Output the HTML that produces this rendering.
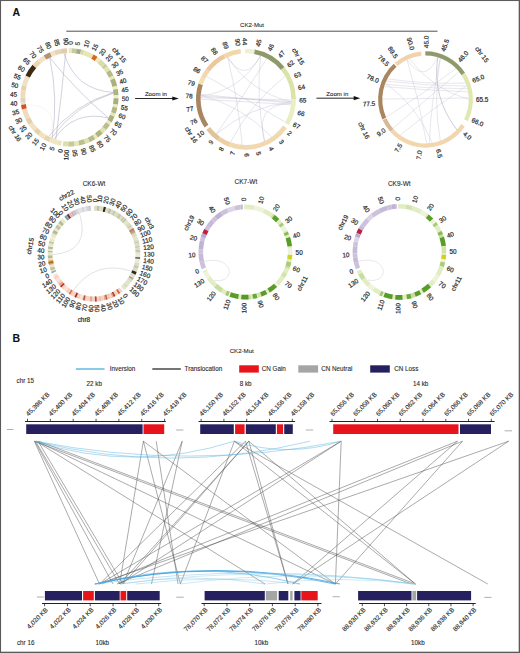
<!DOCTYPE html>
<html><head><meta charset="utf-8"><style>
html,body{margin:0;padding:0;background:#fff;}
svg{display:block;font-family:"Liberation Sans", sans-serif;}
text{stroke:#2a2a2a;stroke-width:0.1px;}
text.c{stroke:#2a2a2a;stroke-width:0.2px;}
text.t{stroke:#2a2a2a;stroke-width:0.12px;}
</style></head><body>
<svg width="520" height="653" viewBox="0 0 520 653">
<rect x="0" y="0" width="520" height="653" fill="#fff"/>
<text x="12.60" y="16.40" font-size="10.5" text-anchor="start" fill="#111" font-weight="bold">A</text>
<text x="240.00" y="26.90" font-size="6.1" text-anchor="start" fill="#2a2a2a">CK2-Mut</text>
<line x1="66.3" y1="31.2" x2="437.5" y2="31.2" stroke="#222" stroke-width="0.8"/>
<line x1="135.1" y1="98.5" x2="173.8" y2="98.5" stroke="#111" stroke-width="0.9"/><path d="M172.3,96.4 L178.8,98.5 L172.3,100.6 Z" fill="#111"/>
<text x="144.90" y="96.00" font-size="6.1" text-anchor="start" fill="#2a2a2a">Zoom in</text>
<line x1="316.4" y1="98.2" x2="355.2" y2="98.2" stroke="#111" stroke-width="0.9"/><path d="M353.7,96.10000000000001 L360.2,98.2 L353.7,100.3 Z" fill="#111"/>
<text x="326.30" y="96.20" font-size="6.1" text-anchor="start" fill="#2a2a2a">Zoom in</text>
<g transform="translate(69.45,97.30) scale(1,1.0031) translate(-69.45,-97.30)">
<path d="M68.77,48.25 A49.05,49.05 0 0 1 71.92,48.31 L71.67,53.21 A44.15,44.15 0 0 0 68.83,53.15 Z" fill="#e8e6c4"/>
<path d="M71.92,48.31 A49.05,49.05 0 0 1 76.62,48.78 L75.90,53.62 A44.15,44.15 0 0 0 71.67,53.21 Z" fill="#c6cc9e"/>
<path d="M76.62,48.78 A49.05,49.05 0 0 1 81.26,49.69 L80.08,54.45 A44.15,44.15 0 0 0 75.90,53.62 Z" fill="#a0ac88"/>
<path d="M81.26,49.69 A49.05,49.05 0 0 1 84.29,50.55 L82.81,55.22 A44.15,44.15 0 0 0 80.08,54.45 Z" fill="#d6d8a8"/>
<path d="M84.29,50.55 A49.05,49.05 0 0 1 93.66,54.64 L91.24,58.90 A44.15,44.15 0 0 0 82.81,55.22 Z" fill="#e8e6b4"/>
<path d="M93.66,54.64 A49.05,49.05 0 0 1 97.65,57.17 L94.84,61.18 A44.15,44.15 0 0 0 91.24,58.90 Z" fill="#d66a1c"/>
<path d="M97.65,57.17 A49.05,49.05 0 0 1 100.78,59.56 L97.65,63.33 A44.15,44.15 0 0 0 94.84,61.18 Z" fill="#f0eab6"/>
<path d="M100.78,59.56 A49.05,49.05 0 0 1 105.36,63.89 L101.77,67.23 A44.15,44.15 0 0 0 97.65,63.33 Z" fill="#dadca6"/>
<path d="M105.36,63.89 A49.05,49.05 0 0 1 107.43,66.26 L103.64,69.36 A44.15,44.15 0 0 0 101.77,67.23 Z" fill="#cacc98"/>
<path d="M107.43,66.26 A49.05,49.05 0 0 1 110.24,70.06 L106.17,72.78 A44.15,44.15 0 0 0 103.64,69.36 Z" fill="#e2e2b2"/>
<path d="M110.24,70.06 A49.05,49.05 0 0 1 113.40,75.52 L109.01,77.69 A44.15,44.15 0 0 0 106.17,72.78 Z" fill="#b6ba88"/>
<path d="M113.40,75.52 A49.05,49.05 0 0 1 114.71,78.38 L110.18,80.27 A44.15,44.15 0 0 0 109.01,77.69 Z" fill="#e8e8b8"/>
<path d="M114.71,78.38 A49.05,49.05 0 0 1 117.15,85.87 L112.38,87.01 A44.15,44.15 0 0 0 110.18,80.27 Z" fill="#aab07e"/>
<path d="M117.15,85.87 A49.05,49.05 0 0 1 117.78,88.95 L112.96,89.79 A44.15,44.15 0 0 0 112.38,87.01 Z" fill="#eeedbc"/>
<path d="M117.78,88.95 A49.05,49.05 0 0 1 118.46,95.22 L113.56,95.43 A44.15,44.15 0 0 0 112.96,89.79 Z" fill="#acb280"/>
<path d="M118.46,95.22 A49.05,49.05 0 0 1 118.49,98.37 L113.59,98.26 A44.15,44.15 0 0 0 113.56,95.43 Z" fill="#f2f0c0"/>
<path d="M118.49,98.37 A49.05,49.05 0 0 1 117.95,104.65 L113.10,103.91 A44.15,44.15 0 0 0 113.59,98.26 Z" fill="#a6ae7c"/>
<path d="M117.95,104.65 A49.05,49.05 0 0 1 117.38,107.74 L112.59,106.70 A44.15,44.15 0 0 0 113.10,103.91 Z" fill="#eaeab8"/>
<path d="M117.38,107.74 A49.05,49.05 0 0 1 115.64,113.80 L111.03,112.15 A44.15,44.15 0 0 0 112.59,106.70 Z" fill="#b2b886"/>
<path d="M115.64,113.80 A49.05,49.05 0 0 1 114.49,116.73 L109.99,114.79 A44.15,44.15 0 0 0 111.03,112.15 Z" fill="#e6e6b4"/>
<path d="M114.49,116.73 A49.05,49.05 0 0 1 111.62,122.35 L107.41,119.84 A44.15,44.15 0 0 0 109.99,114.79 Z" fill="#aab080"/>
<path d="M111.62,122.35 A49.05,49.05 0 0 1 109.93,125.00 L105.88,122.23 A44.15,44.15 0 0 0 107.41,119.84 Z" fill="#eeebba"/>
<path d="M109.93,125.00 A49.05,49.05 0 0 1 106.04,129.96 L102.39,126.70 A44.15,44.15 0 0 0 105.88,122.23 Z" fill="#babe8c"/>
<path d="M106.04,129.96 A49.05,49.05 0 0 1 102.73,133.33 L99.41,129.73 A44.15,44.15 0 0 0 102.39,126.70 Z" fill="#e0e2b0"/>
<path d="M102.73,133.33 A49.05,49.05 0 0 1 97.84,137.30 L95.00,133.30 A44.15,44.15 0 0 0 99.41,129.73 Z" fill="#aeb482"/>
<path d="M97.84,137.30 A49.05,49.05 0 0 1 95.21,139.04 L92.64,134.87 A44.15,44.15 0 0 0 95.00,133.30 Z" fill="#eaeab8"/>
<path d="M95.21,139.04 A49.05,49.05 0 0 1 89.65,142.00 L87.63,137.53 A44.15,44.15 0 0 0 92.64,134.87 Z" fill="#b6bc8a"/>
<path d="M89.65,142.00 A49.05,49.05 0 0 1 85.25,143.73 L83.67,139.10 A44.15,44.15 0 0 0 87.63,137.53 Z" fill="#dfe0ae"/>
<path d="M85.25,143.73 A49.05,49.05 0 0 1 79.17,145.38 L78.20,140.57 A44.15,44.15 0 0 0 83.67,139.10 Z" fill="#bac08c"/>
<path d="M79.17,145.38 A49.05,49.05 0 0 1 74.50,146.09 L73.99,141.22 A44.15,44.15 0 0 0 78.20,140.57 Z" fill="#e8e8b6"/>
<path d="M74.50,146.09 A49.05,49.05 0 0 1 68.20,146.33 L68.33,141.44 A44.15,44.15 0 0 0 73.99,141.22 Z" fill="#c6ca98"/>
<path d="M68.20,146.33 A49.05,49.05 0 0 1 62.71,145.88 L63.38,141.03 A44.15,44.15 0 0 0 68.33,141.44 Z" fill="#dcdeac"/>
<path d="M61.02,145.62 A49.05,49.05 0 0 1 56.38,144.58 L57.68,139.85 A44.15,44.15 0 0 0 61.86,140.79 Z" fill="#eee4bc"/>
<path d="M56.38,144.58 A49.05,49.05 0 0 1 48.94,141.85 L50.99,137.40 A44.15,44.15 0 0 0 57.68,139.85 Z" fill="#f2e6c6"/>
<path d="M48.94,141.85 A49.05,49.05 0 0 1 43.36,138.84 L45.97,134.69 A44.15,44.15 0 0 0 50.99,137.40 Z" fill="#ead6ae"/>
<path d="M43.36,138.84 A49.05,49.05 0 0 1 38.22,135.12 L41.34,131.35 A44.15,44.15 0 0 0 45.97,134.69 Z" fill="#f2e2c0"/>
<path d="M38.22,135.12 A49.05,49.05 0 0 1 33.60,130.78 L37.18,127.44 A44.15,44.15 0 0 0 41.34,131.35 Z" fill="#e8d2a8"/>
<path d="M33.60,130.78 A49.05,49.05 0 0 1 28.68,124.57 L32.75,121.85 A44.15,44.15 0 0 0 37.18,127.44 Z" fill="#f2e2c4"/>
<path d="M28.68,124.57 A49.05,49.05 0 0 1 25.50,119.09 L29.89,116.91 A44.15,44.15 0 0 0 32.75,121.85 Z" fill="#e6cfa6"/>
<path d="M25.50,119.09 A49.05,49.05 0 0 1 21.93,109.44 L26.67,108.23 A44.15,44.15 0 0 0 29.89,116.91 Z" fill="#f0dcbc"/>
<path d="M21.93,109.44 A49.05,49.05 0 0 1 20.97,104.78 L25.82,104.03 A44.15,44.15 0 0 0 26.67,108.23 Z" fill="#d2502a"/>
<path d="M20.97,104.78 A49.05,49.05 0 0 1 20.67,102.42 L25.54,101.91 A44.15,44.15 0 0 0 25.82,104.03 Z" fill="#f0dcc0"/>
<path d="M20.67,102.42 A49.05,49.05 0 0 1 20.40,97.67 L25.30,97.63 A44.15,44.15 0 0 0 25.54,101.91 Z" fill="#d6d8bc"/>
<path d="M20.40,97.67 A49.05,49.05 0 0 1 20.98,89.77 L25.82,90.52 A44.15,44.15 0 0 0 25.30,97.63 Z" fill="#f0dcb8"/>
<path d="M20.98,89.77 A49.05,49.05 0 0 1 21.94,85.11 L26.68,86.33 A44.15,44.15 0 0 0 25.82,90.52 Z" fill="#e8d2ac"/>
<path d="M21.94,85.11 A49.05,49.05 0 0 1 25.53,75.47 L29.91,77.65 A44.15,44.15 0 0 0 26.68,86.33 Z" fill="#f0e0c4"/>
<path d="M25.53,75.47 A49.05,49.05 0 0 1 32.57,64.96 L36.26,68.19 A44.15,44.15 0 0 0 29.91,77.65 Z" fill="#3c2a16"/>
<path d="M32.57,64.96 A49.05,49.05 0 0 1 37.65,59.95 L40.83,63.68 A44.15,44.15 0 0 0 36.26,68.19 Z" fill="#f0d4ac"/>
<path d="M37.65,59.95 A49.05,49.05 0 0 1 43.67,55.57 L46.25,59.74 A44.15,44.15 0 0 0 40.83,63.68 Z" fill="#f4e2c4"/>
<path d="M43.67,55.57 A49.05,49.05 0 0 1 50.00,52.27 L51.94,56.77 A44.15,44.15 0 0 0 46.25,59.74 Z" fill="#b39372"/>
<path d="M50.00,52.27 A49.05,49.05 0 0 1 54.15,50.70 L55.68,55.35 A44.15,44.15 0 0 0 51.94,56.77 Z" fill="#f2e2c6"/>
<path d="M54.15,50.70 A49.05,49.05 0 0 1 60.29,49.11 L61.20,53.93 A44.15,44.15 0 0 0 55.68,55.35 Z" fill="#e8d4b4"/>
<path d="M60.29,49.11 A49.05,49.05 0 0 1 67.05,48.31 L67.29,53.20 A44.15,44.15 0 0 0 61.20,53.93 Z" fill="#e2ccb0"/>
<path d="M49.75,57.79 Q76.21,90.70 108.47,117.96" fill="none" stroke="#a0a0b6" stroke-width="0.6" stroke-opacity="0.8"/>
<path d="M49.75,57.79 Q58.36,97.64 52.20,137.94" fill="none" stroke="#a0a0b6" stroke-width="0.6" stroke-opacity="0.8"/>
<path d="M64.07,53.48 Q75.23,90.00 113.33,92.46" fill="none" stroke="#a0a0b6" stroke-width="0.6" stroke-opacity="0.8"/>
<path d="M65.60,53.32 Q61.58,96.40 55.81,139.29" fill="none" stroke="#a0a0b6" stroke-width="0.6" stroke-opacity="0.8"/>
<path d="M113.33,92.46 Q74.08,104.13 48.72,136.28" fill="none" stroke="#a0a0b6" stroke-width="0.6" stroke-opacity="0.8"/>
<path d="M113.40,93.07 Q75.30,105.42 51.49,137.63" fill="none" stroke="#a0a0b6" stroke-width="0.6" stroke-opacity="0.8"/>
<path d="M108.47,117.96 Q74.23,109.73 54.35,138.79" fill="none" stroke="#a0a0b6" stroke-width="0.6" stroke-opacity="0.8"/>
<path d="M25.97,104.97 Q60.02,104.40 50.10,136.98" fill="none" stroke="#f4e8dc" stroke-width="0.6" stroke-opacity="0.7"/>
<text class="c" x="70.36" y="44.96" font-size="6.4" text-anchor="start" dominant-baseline="central" fill="#2a2a2a" transform="rotate(-89.0 70.36 44.96)">0</text>
<text class="c" x="77.10" y="45.51" font-size="6.4" text-anchor="start" dominant-baseline="central" fill="#2a2a2a" transform="rotate(-81.6 77.10 45.51)">5</text>
<text class="c" x="85.29" y="47.40" font-size="6.4" text-anchor="start" dominant-baseline="central" fill="#2a2a2a" transform="rotate(-72.4 85.29 47.40)">10</text>
<text class="c" x="93.07" y="50.58" font-size="6.4" text-anchor="start" dominant-baseline="central" fill="#2a2a2a" transform="rotate(-63.2 93.07 50.58)">15</text>
<text class="c" x="100.23" y="54.96" font-size="6.4" text-anchor="start" dominant-baseline="central" fill="#2a2a2a" transform="rotate(-54.0 100.23 54.96)">20</text>
<text class="c" x="106.61" y="60.43" font-size="6.4" text-anchor="start" dominant-baseline="central" fill="#2a2a2a" transform="rotate(-44.8 106.61 60.43)">25</text>
<text class="c" x="112.03" y="66.85" font-size="6.4" text-anchor="start" dominant-baseline="central" fill="#2a2a2a" transform="rotate(-35.6 112.03 66.85)">30</text>
<text class="c" x="116.35" y="74.05" font-size="6.4" text-anchor="start" dominant-baseline="central" fill="#2a2a2a" transform="rotate(-26.4 116.35 74.05)">35</text>
<text class="c" x="119.47" y="81.85" font-size="6.4" text-anchor="start" dominant-baseline="central" fill="#2a2a2a" transform="rotate(-17.2 119.47 81.85)">40</text>
<text class="c" x="121.30" y="90.05" font-size="6.4" text-anchor="start" dominant-baseline="central" fill="#2a2a2a" transform="rotate(-8.0 121.30 90.05)">45</text>
<text class="c" x="121.79" y="98.44" font-size="6.4" text-anchor="start" dominant-baseline="central" fill="#2a2a2a" transform="rotate(1.2 121.79 98.44)">50</text>
<text class="c" x="120.93" y="106.80" font-size="6.4" text-anchor="start" dominant-baseline="central" fill="#2a2a2a" transform="rotate(10.5 120.93 106.80)">55</text>
<text class="c" x="118.75" y="114.91" font-size="6.4" text-anchor="start" dominant-baseline="central" fill="#2a2a2a" transform="rotate(19.7 118.75 114.91)">60</text>
<text class="c" x="115.30" y="122.57" font-size="6.4" text-anchor="start" dominant-baseline="central" fill="#2a2a2a" transform="rotate(28.9 115.30 122.57)">65</text>
<text class="c" x="110.66" y="129.58" font-size="6.4" text-anchor="start" dominant-baseline="central" fill="#2a2a2a" transform="rotate(38.1 110.66 129.58)">70</text>
<text class="c" x="104.97" y="135.76" font-size="6.4" text-anchor="start" dominant-baseline="central" fill="#2a2a2a" transform="rotate(47.3 104.97 135.76)">75</text>
<text class="c" x="98.36" y="140.94" font-size="6.4" text-anchor="start" dominant-baseline="central" fill="#2a2a2a" transform="rotate(56.5 98.36 140.94)">80</text>
<text class="c" x="91.01" y="145.01" font-size="6.4" text-anchor="start" dominant-baseline="central" fill="#2a2a2a" transform="rotate(65.7 91.01 145.01)">85</text>
<text class="c" x="83.10" y="147.84" font-size="6.4" text-anchor="start" dominant-baseline="central" fill="#2a2a2a" transform="rotate(74.9 83.10 147.84)">90</text>
<text class="c" x="74.84" y="149.37" font-size="6.4" text-anchor="start" dominant-baseline="central" fill="#2a2a2a" transform="rotate(84.1 74.84 149.37)">95</text>
<text class="c" x="66.44" y="149.56" font-size="6.4" text-anchor="end" dominant-baseline="central" fill="#2a2a2a" transform="rotate(-86.7 66.44 149.56)">100</text>
<text class="c" x="60.45" y="148.87" font-size="6.4" text-anchor="end" dominant-baseline="central" fill="#2a2a2a" transform="rotate(-80.1 60.45 148.87)">0</text>
<text class="c" x="52.27" y="146.75" font-size="6.4" text-anchor="end" dominant-baseline="central" fill="#2a2a2a" transform="rotate(-70.8 52.27 146.75)">5</text>
<text class="c" x="44.53" y="143.34" font-size="6.4" text-anchor="end" dominant-baseline="central" fill="#2a2a2a" transform="rotate(-61.6 44.53 143.34)">10</text>
<text class="c" x="37.44" y="138.73" font-size="6.4" text-anchor="end" dominant-baseline="central" fill="#2a2a2a" transform="rotate(-52.3 37.44 138.73)">15</text>
<text class="c" x="31.19" y="133.03" font-size="6.4" text-anchor="end" dominant-baseline="central" fill="#2a2a2a" transform="rotate(-43.0 31.19 133.03)">20</text>
<text class="c" x="25.94" y="126.41" font-size="6.4" text-anchor="end" dominant-baseline="central" fill="#2a2a2a" transform="rotate(-33.8 25.94 126.41)">25</text>
<text class="c" x="21.82" y="119.02" font-size="6.4" text-anchor="end" dominant-baseline="central" fill="#2a2a2a" transform="rotate(-24.5 21.82 119.02)">30</text>
<text class="c" x="18.94" y="111.07" font-size="6.4" text-anchor="end" dominant-baseline="central" fill="#2a2a2a" transform="rotate(-15.3 18.94 111.07)">35</text>
<text class="c" x="17.39" y="102.76" font-size="6.4" text-anchor="end" dominant-baseline="central" fill="#2a2a2a" transform="rotate(-6.0 17.39 102.76)">40</text>
<text class="c" x="17.19" y="94.31" font-size="6.4" text-anchor="end" dominant-baseline="central" fill="#2a2a2a" transform="rotate(3.3 17.19 94.31)">45</text>
<text class="c" x="18.35" y="85.94" font-size="6.4" text-anchor="end" dominant-baseline="central" fill="#2a2a2a" transform="rotate(12.5 18.35 85.94)">50</text>
<text class="c" x="20.84" y="77.86" font-size="6.4" text-anchor="end" dominant-baseline="central" fill="#2a2a2a" transform="rotate(21.8 20.84 77.86)">55</text>
<text class="c" x="24.61" y="70.29" font-size="6.4" text-anchor="end" dominant-baseline="central" fill="#2a2a2a" transform="rotate(31.1 24.61 70.29)">60</text>
<text class="c" x="29.54" y="63.42" font-size="6.4" text-anchor="end" dominant-baseline="central" fill="#2a2a2a" transform="rotate(40.3 29.54 63.42)">65</text>
<text class="c" x="35.51" y="57.44" font-size="6.4" text-anchor="end" dominant-baseline="central" fill="#2a2a2a" transform="rotate(49.6 35.51 57.44)">70</text>
<text class="c" x="42.37" y="52.50" font-size="6.4" text-anchor="end" dominant-baseline="central" fill="#2a2a2a" transform="rotate(58.9 42.37 52.50)">75</text>
<text class="c" x="49.94" y="48.72" font-size="6.4" text-anchor="end" dominant-baseline="central" fill="#2a2a2a" transform="rotate(68.1 49.94 48.72)">80</text>
<text class="c" x="58.01" y="46.21" font-size="6.4" text-anchor="end" dominant-baseline="central" fill="#2a2a2a" transform="rotate(77.4 58.01 46.21)">85</text>
<text class="c" x="66.39" y="45.04" font-size="6.4" text-anchor="end" dominant-baseline="central" fill="#2a2a2a" transform="rotate(86.6 66.39 45.04)">90</text>
<text class="c" x="119.48" y="55.02" font-size="6.4" text-anchor="middle" dominant-baseline="central" fill="#2a2a2a" transform="rotate(49.8 119.48 55.02)">chr 15</text>
<text class="c" x="15.25" y="133.18" font-size="6.4" text-anchor="middle" dominant-baseline="central" fill="#2a2a2a" transform="rotate(56.5 15.25 133.18)">chr 16</text>
</g>
<g transform="translate(245.95,99.20) scale(1,1.0110) translate(-245.95,-99.20)">
<path d="M245.08,49.26 A49.95,49.95 0 0 1 254.88,50.05 L254.06,54.58 A45.35,45.35 0 0 0 245.16,53.86 Z" fill="#eef0d2"/>
<path d="M254.88,50.05 A49.95,49.95 0 0 1 284.49,67.43 L280.94,70.35 A45.35,45.35 0 0 0 254.06,54.58 Z" fill="#8f9a6b"/>
<path d="M284.49,67.43 A49.95,49.95 0 0 1 295.90,99.20 L291.30,99.20 A45.35,45.35 0 0 0 280.94,70.35 Z" fill="#dbe3a8"/>
<path d="M295.90,99.20 A49.95,49.95 0 0 1 288.77,124.93 L284.82,122.56 A45.35,45.35 0 0 0 291.30,99.20 Z" fill="#e9eec4"/>
<path d="M286.87,127.85 A49.95,49.95 0 0 1 228.87,146.14 L230.44,141.82 A45.35,45.35 0 0 0 283.10,125.21 Z" fill="#f2d8ae"/>
<path d="M228.87,146.14 A49.95,49.95 0 0 1 217.30,140.12 L219.94,136.35 A45.35,45.35 0 0 0 230.44,141.82 Z" fill="#ecd0a4"/>
<path d="M217.30,140.12 A49.95,49.95 0 0 1 206.32,129.61 L209.97,126.81 A45.35,45.35 0 0 0 219.94,136.35 Z" fill="#e0c39a"/>
<path d="M204.54,127.13 A49.95,49.95 0 0 1 198.44,83.76 L202.82,85.19 A45.35,45.35 0 0 0 208.35,124.56 Z" fill="#a9865f"/>
<path d="M198.44,83.76 A49.95,49.95 0 0 1 201.06,77.30 L205.19,79.32 A45.35,45.35 0 0 0 202.82,85.19 Z" fill="#f2e0b0"/>
<path d="M201.06,77.30 A49.95,49.95 0 0 1 206.06,69.14 L209.73,71.91 A45.35,45.35 0 0 0 205.19,79.32 Z" fill="#f4d8b0"/>
<path d="M206.06,69.14 A49.95,49.95 0 0 1 223.27,54.69 L225.36,58.79 A45.35,45.35 0 0 0 209.73,71.91 Z" fill="#ecc89c"/>
<path d="M223.27,54.69 A49.95,49.95 0 0 1 240.47,49.55 L240.97,54.12 A45.35,45.35 0 0 0 225.36,58.79 Z" fill="#f2d8a8"/>
<path d="M227.65,57.71 Q245.30,84.43 260.56,56.27" fill="none" stroke="#b8b8cc" stroke-width="0.5" stroke-opacity="0.75"/>
<path d="M260.56,56.27 Q240.59,91.13 200.71,96.04" fill="none" stroke="#b8b8cc" stroke-width="0.5" stroke-opacity="0.75"/>
<path d="M266.89,58.97 Q242.93,97.15 216.38,133.58" fill="none" stroke="#b8b8cc" stroke-width="0.5" stroke-opacity="0.75"/>
<path d="M260.56,56.27 Q255.91,98.73 264.54,140.56" fill="none" stroke="#b8b8cc" stroke-width="0.5" stroke-opacity="0.75"/>
<path d="M200.71,96.04 Q245.97,98.91 291.23,101.73" fill="none" stroke="#b8b8cc" stroke-width="0.5" stroke-opacity="0.75"/>
<path d="M200.63,97.62 Q245.96,98.82 291.29,99.99" fill="none" stroke="#b8b8cc" stroke-width="0.5" stroke-opacity="0.75"/>
<path d="M200.85,94.46 Q245.98,98.86 291.13,103.15" fill="none" stroke="#b8b8cc" stroke-width="0.5" stroke-opacity="0.75"/>
<path d="M200.60,99.20 Q245.81,101.41 290.96,104.73" fill="none" stroke="#b8b8cc" stroke-width="0.5" stroke-opacity="0.75"/>
<path d="M291.23,101.73 Q250.67,92.38 227.65,57.71" fill="none" stroke="#b8b8cc" stroke-width="0.5" stroke-opacity="0.75"/>
<path d="M291.13,103.15 Q253.92,104.86 264.54,140.56" fill="none" stroke="#b8b8cc" stroke-width="0.5" stroke-opacity="0.75"/>
<path d="M200.77,95.25 Q242.06,105.88 271.70,136.53" fill="none" stroke="#b8b8cc" stroke-width="0.5" stroke-opacity="0.75"/>
<path d="M216.38,133.58 Q249.09,106.58 291.23,101.73" fill="none" stroke="#b8b8cc" stroke-width="0.5" stroke-opacity="0.75"/>
<path d="M227.65,57.71 Q238.22,100.49 242.16,144.39" fill="none" stroke="#b8b8cc" stroke-width="0.5" stroke-opacity="0.75"/>
<path d="M230.44,141.82 Q250.70,103.19 285.22,76.53" fill="none" stroke="#b8b8cc" stroke-width="0.5" stroke-opacity="0.75"/>
<path d="M206.68,76.53 Q245.95,99.20 285.22,121.88" fill="none" stroke="#b8b8cc" stroke-width="0.5" stroke-opacity="0.75"/>
<text class="c" x="245.02" y="45.86" font-size="6.4" text-anchor="end" dominant-baseline="central" fill="#2a2a2a" transform="rotate(89.0 245.02 45.86)">44</text>
<text class="c" x="257.50" y="47.11" font-size="6.4" text-anchor="start" dominant-baseline="central" fill="#2a2a2a" transform="rotate(-77.5 257.50 47.11)">45</text>
<text class="c" x="269.09" y="51.13" font-size="6.4" text-anchor="start" dominant-baseline="central" fill="#2a2a2a" transform="rotate(-64.3 269.09 51.13)">46</text>
<text class="c" x="279.02" y="57.33" font-size="6.4" text-anchor="start" dominant-baseline="central" fill="#2a2a2a" transform="rotate(-51.7 279.02 57.33)">47</text>
<text class="c" x="287.76" y="66.06" font-size="6.4" text-anchor="start" dominant-baseline="central" fill="#2a2a2a" transform="rotate(-38.4 287.76 66.06)">62</text>
<text class="c" x="294.18" y="76.40" font-size="6.4" text-anchor="start" dominant-baseline="central" fill="#2a2a2a" transform="rotate(-25.3 294.18 76.40)">63</text>
<text class="c" x="298.10" y="87.93" font-size="6.4" text-anchor="start" dominant-baseline="central" fill="#2a2a2a" transform="rotate(-12.2 298.10 87.93)">64</text>
<text class="c" x="299.29" y="100.04" font-size="6.4" text-anchor="start" dominant-baseline="central" fill="#2a2a2a" transform="rotate(0.9 299.29 100.04)">65</text>
<text class="c" x="297.72" y="112.11" font-size="6.4" text-anchor="start" dominant-baseline="central" fill="#2a2a2a" transform="rotate(14.0 297.72 112.11)">66</text>
<text class="c" x="293.44" y="123.50" font-size="6.4" text-anchor="start" dominant-baseline="central" fill="#2a2a2a" transform="rotate(27.1 293.44 123.50)">67</text>
<text class="c" x="288.33" y="131.60" font-size="6.4" text-anchor="start" dominant-baseline="central" fill="#2a2a2a" transform="rotate(37.4 288.33 131.60)">2</text>
<text class="c" x="280.53" y="139.83" font-size="6.4" text-anchor="start" dominant-baseline="central" fill="#2a2a2a" transform="rotate(49.6 280.53 139.83)">3</text>
<text class="c" x="270.67" y="146.48" font-size="6.4" text-anchor="start" dominant-baseline="central" fill="#2a2a2a" transform="rotate(62.4 270.67 146.48)">4</text>
<text class="c" x="258.40" y="151.08" font-size="6.4" text-anchor="start" dominant-baseline="central" fill="#2a2a2a" transform="rotate(76.5 258.40 151.08)">5</text>
<text class="c" x="247.07" y="152.54" font-size="6.4" text-anchor="start" dominant-baseline="central" fill="#2a2a2a" transform="rotate(88.8 247.07 152.54)">6</text>
<text class="c" x="232.77" y="150.90" font-size="6.4" text-anchor="end" dominant-baseline="central" fill="#2a2a2a" transform="rotate(-75.7 232.77 150.90)">7</text>
<text class="c" x="221.90" y="146.82" font-size="6.4" text-anchor="end" dominant-baseline="central" fill="#2a2a2a" transform="rotate(-63.2 221.90 146.82)">8</text>
<text class="c" x="211.80" y="140.19" font-size="6.4" text-anchor="end" dominant-baseline="central" fill="#2a2a2a" transform="rotate(-50.2 211.80 140.19)">9</text>
<text class="c" x="203.29" y="131.23" font-size="6.4" text-anchor="end" dominant-baseline="central" fill="#2a2a2a" transform="rotate(-36.9 203.29 131.23)">10</text>
<text class="c" x="196.77" y="119.87" font-size="6.4" text-anchor="end" dominant-baseline="central" fill="#2a2a2a" transform="rotate(-22.8 196.77 119.87)">76</text>
<text class="c" x="193.36" y="108.19" font-size="6.4" text-anchor="end" dominant-baseline="central" fill="#2a2a2a" transform="rotate(-9.7 193.36 108.19)">77</text>
<text class="c" x="192.69" y="96.04" font-size="6.4" text-anchor="end" dominant-baseline="central" fill="#2a2a2a" transform="rotate(3.4 192.69 96.04)">78</text>
<text class="c" x="194.80" y="84.05" font-size="6.4" text-anchor="end" dominant-baseline="central" fill="#2a2a2a" transform="rotate(16.5 194.80 84.05)">79</text>
<text class="c" x="200.08" y="71.96" font-size="6.4" text-anchor="end" dominant-baseline="central" fill="#2a2a2a" transform="rotate(30.7 200.08 71.96)">86</text>
<text class="c" x="207.38" y="62.34" font-size="6.4" text-anchor="end" dominant-baseline="central" fill="#2a2a2a" transform="rotate(43.7 207.38 62.34)">87</text>
<text class="c" x="216.50" y="54.71" font-size="6.4" text-anchor="end" dominant-baseline="central" fill="#2a2a2a" transform="rotate(56.5 216.50 54.71)">88</text>
<text class="c" x="227.18" y="49.26" font-size="6.4" text-anchor="end" dominant-baseline="central" fill="#2a2a2a" transform="rotate(69.4 227.18 49.26)">89</text>
<text class="c" x="238.53" y="46.37" font-size="6.4" text-anchor="end" dominant-baseline="central" fill="#2a2a2a" transform="rotate(82.0 238.53 46.37)">90</text>
<text class="c" x="298.41" y="56.72" font-size="6.4" text-anchor="middle" dominant-baseline="central" fill="#2a2a2a" transform="rotate(60.0 298.41 56.72)">chr 15</text>
<text class="c" x="191.48" y="134.30" font-size="6.4" text-anchor="middle" dominant-baseline="central" fill="#2a2a2a" transform="rotate(57.0 191.48 134.30)">chr 16</text>
</g>
<g transform="translate(425.50,99.45) scale(1,1.0179) translate(-425.50,-99.45)">
<path d="M425.33,52.05 A47.4,47.4 0 0 1 465.03,73.29 L461.52,75.61 A43.199999999999996,43.199999999999996 0 0 0 425.35,56.25 Z" fill="#8f9a6b"/>
<path d="M465.03,73.29 A47.4,47.4 0 0 1 467.85,120.75 L464.09,118.86 A43.199999999999996,43.199999999999996 0 0 0 461.52,75.61 Z" fill="#e0e8b2"/>
<path d="M464.80,125.96 A47.4,47.4 0 0 1 390.27,131.17 L393.40,128.36 A43.199999999999996,43.199999999999996 0 0 0 461.31,123.61 Z" fill="#f2d6ae"/>
<path d="M390.27,131.17 A47.4,47.4 0 0 1 382.61,119.63 L386.41,117.84 A43.199999999999996,43.199999999999996 0 0 0 393.40,128.36 Z" fill="#d8b896"/>
<path d="M382.61,119.63 A47.4,47.4 0 0 1 382.33,119.03 L386.16,117.30 A43.199999999999996,43.199999999999996 0 0 0 386.41,117.84 Z" fill="#f4ecd0"/>
<path d="M382.33,119.03 A47.4,47.4 0 0 1 393.72,64.28 L396.54,67.40 A43.199999999999996,43.199999999999996 0 0 0 386.16,117.30 Z" fill="#a9865f"/>
<path d="M394.72,63.41 A47.4,47.4 0 0 1 421.04,52.26 L421.43,56.44 A43.199999999999996,43.199999999999996 0 0 0 397.44,66.60 Z" fill="#f1d2ac"/>
<path d="M407.04,60.39 Q424.40,85.36 437.70,58.01" fill="none" stroke="#c0c0d0" stroke-width="0.5" stroke-opacity="0.75"/>
<path d="M437.70,58.01 Q432.03,97.69 456.84,129.19" fill="none" stroke="#9c9cb4" stroke-width="0.6" stroke-opacity="0.85"/>
<path d="M386.25,81.40 Q426.32,86.23 466.68,86.39" fill="none" stroke="#c0c0d0" stroke-width="0.5" stroke-opacity="0.75"/>
<path d="M384.91,84.67 Q426.06,88.73 467.42,89.00" fill="none" stroke="#c0c0d0" stroke-width="0.5" stroke-opacity="0.75"/>
<path d="M387.36,79.17 Q426.26,84.86 465.55,83.27" fill="none" stroke="#c0c0d0" stroke-width="0.5" stroke-opacity="0.75"/>
<path d="M384.19,86.82 Q426.05,90.39 468.04,91.95" fill="none" stroke="#c0c0d0" stroke-width="0.5" stroke-opacity="0.75"/>
<path d="M409.32,59.40 Q432.25,89.44 468.70,99.45" fill="none" stroke="#c0c0d0" stroke-width="0.5" stroke-opacity="0.75"/>
<path d="M382.30,99.07 Q425.49,98.55 468.67,97.94" fill="none" stroke="#c0c0d0" stroke-width="0.5" stroke-opacity="0.75"/>
<path d="M407.04,60.39 Q419.46,100.89 426.71,142.63" fill="none" stroke="#c0c0d0" stroke-width="0.5" stroke-opacity="0.75"/>
<path d="M459.07,72.26 Q425.94,99.97 392.90,127.79" fill="none" stroke="#c0c0d0" stroke-width="0.5" stroke-opacity="0.75"/>
<path d="M466.59,86.10 Q432.17,108.63 400.11,134.40" fill="none" stroke="#c0c0d0" stroke-width="0.5" stroke-opacity="0.75"/>
<path d="M385.45,83.27 Q417.18,106.07 432.26,142.12" fill="none" stroke="#c0c0d0" stroke-width="0.5" stroke-opacity="0.75"/>
<path d="M386.03,117.02 Q422.38,94.91 456.05,68.90" fill="none" stroke="#c0c0d0" stroke-width="0.5" stroke-opacity="0.75"/>
<path d="M440.28,140.04 Q432.89,99.45 440.28,58.86" fill="none" stroke="#c0c0d0" stroke-width="0.5" stroke-opacity="0.75"/>
<path d="M440.28,58.86 Q431.06,100.18 429.27,142.49" fill="none" stroke="#c0c0d0" stroke-width="0.5" stroke-opacity="0.75"/>
<text class="c" x="425.94" y="49.05" font-size="6.4" text-anchor="start" dominant-baseline="central" fill="#2a2a2a" transform="rotate(-89.5 425.94 49.05)">45.0</text>
<text class="c" x="442.74" y="52.09" font-size="6.4" text-anchor="start" dominant-baseline="central" fill="#2a2a2a" transform="rotate(-70.0 442.74 52.09)">45.5</text>
<text class="c" x="458.90" y="61.70" font-size="6.4" text-anchor="start" dominant-baseline="central" fill="#2a2a2a" transform="rotate(-48.5 458.90 61.70)">46.0</text>
<text class="c" x="472.43" y="81.06" font-size="6.4" text-anchor="start" dominant-baseline="central" fill="#2a2a2a" transform="rotate(-21.4 472.43 81.06)">65.0</text>
<text class="c" x="475.90" y="99.45" font-size="6.4" text-anchor="start" dominant-baseline="central" fill="#2a2a2a" transform="rotate(0.0 475.90 99.45)">65.5</text>
<text class="c" x="471.89" y="119.14" font-size="6.4" text-anchor="start" dominant-baseline="central" fill="#2a2a2a" transform="rotate(23.0 471.89 119.14)">66.0</text>
<text class="c" x="464.00" y="131.98" font-size="6.4" text-anchor="start" dominant-baseline="central" fill="#2a2a2a" transform="rotate(40.2 464.00 131.98)">4.0</text>
<text class="c" x="438.37" y="148.18" font-size="6.4" text-anchor="start" dominant-baseline="central" fill="#2a2a2a" transform="rotate(75.2 438.37 148.18)">6.5</text>
<text class="c" x="419.45" y="149.48" font-size="6.4" text-anchor="end" dominant-baseline="central" fill="#2a2a2a" transform="rotate(-83.1 419.45 149.48)">7.0</text>
<text class="c" x="400.38" y="143.14" font-size="6.4" text-anchor="end" dominant-baseline="central" fill="#2a2a2a" transform="rotate(-60.1 400.38 143.14)">7.5</text>
<text class="c" x="384.62" y="128.93" font-size="6.4" text-anchor="end" dominant-baseline="central" fill="#2a2a2a" transform="rotate(-35.8 384.62 128.93)">9.0</text>
<text class="c" x="375.23" y="103.05" font-size="6.4" text-anchor="end" dominant-baseline="central" fill="#2a2a2a" transform="rotate(-4.1 375.23 103.05)">77.5</text>
<text class="c" x="378.61" y="80.98" font-size="6.4" text-anchor="end" dominant-baseline="central" fill="#2a2a2a" transform="rotate(21.5 378.61 80.98)">78.0</text>
<text class="c" x="388.40" y="65.34" font-size="6.4" text-anchor="end" dominant-baseline="central" fill="#2a2a2a" transform="rotate(42.6 388.40 65.34)">78.5</text>
<text class="c" x="396.59" y="58.16" font-size="6.4" text-anchor="end" dominant-baseline="central" fill="#2a2a2a" transform="rotate(55.0 396.59 58.16)">89.5</text>
<text class="c" x="412.46" y="50.77" font-size="6.4" text-anchor="end" dominant-baseline="central" fill="#2a2a2a" transform="rotate(75.0 412.46 50.77)">90.0</text>
<text class="c" x="482.24" y="55.12" font-size="6.4" text-anchor="middle" dominant-baseline="central" fill="#2a2a2a" transform="rotate(52.0 482.24 55.12)">chr 15</text>
<text class="c" x="364.18" y="129.76" font-size="6.4" text-anchor="middle" dominant-baseline="central" fill="#2a2a2a" transform="rotate(63.7 364.18 129.76)">chr 16</text>
</g>
<text x="94.00" y="185.80" font-size="6.5" text-anchor="middle" fill="#2a2a2a">CK6-Wt</text>
<g transform="translate(94.00,253.60) scale(1,1.0346) translate(-94.00,-253.60)">
<path d="M94.16,207.30 A46.3,46.3 0 0 1 96.86,207.39 L96.57,212.18 A41.5,41.5 0 0 0 94.14,212.10 Z" fill="#dcdcc4"/>
<path d="M96.86,207.39 A46.3,46.3 0 0 1 99.80,207.66 L99.20,212.43 A41.5,41.5 0 0 0 96.57,212.18 Z" fill="#bfc2a6"/>
<path d="M99.80,207.66 A46.3,46.3 0 0 1 103.51,208.29 L102.53,212.99 A41.5,41.5 0 0 0 99.20,212.43 Z" fill="#dcdcc4"/>
<path d="M103.51,208.29 A46.3,46.3 0 0 1 106.17,208.93 L104.91,213.56 A41.5,41.5 0 0 0 102.53,212.99 Z" fill="#eaebd8"/>
<path d="M106.17,208.93 A46.3,46.3 0 0 1 108.88,209.75 L107.33,214.30 A41.5,41.5 0 0 0 104.91,213.56 Z" fill="#dcdcc4"/>
<path d="M108.88,209.75 A46.3,46.3 0 0 1 111.69,210.81 L109.86,215.25 A41.5,41.5 0 0 0 107.33,214.30 Z" fill="#bfc2a6"/>
<path d="M111.69,210.81 A46.3,46.3 0 0 1 113.62,211.66 L111.58,216.01 A41.5,41.5 0 0 0 109.86,215.25 Z" fill="#dcdcc4"/>
<path d="M113.62,211.66 A46.3,46.3 0 0 1 116.15,212.94 L113.85,217.16 A41.5,41.5 0 0 0 111.58,216.01 Z" fill="#c8cab0"/>
<path d="M116.15,212.94 A46.3,46.3 0 0 1 118.82,214.52 L116.25,218.57 A41.5,41.5 0 0 0 113.85,217.16 Z" fill="#dcdcc4"/>
<path d="M118.82,214.52 A46.3,46.3 0 0 1 121.68,216.49 L118.81,220.33 A41.5,41.5 0 0 0 116.25,218.57 Z" fill="#c8cab0"/>
<path d="M121.68,216.49 A46.3,46.3 0 0 1 123.18,217.65 L120.15,221.38 A41.5,41.5 0 0 0 118.81,220.33 Z" fill="#dcdcc4"/>
<path d="M123.18,217.65 A46.3,46.3 0 0 1 124.98,219.19 L121.77,222.76 A41.5,41.5 0 0 0 120.15,221.38 Z" fill="#c8cab0"/>
<path d="M124.98,219.19 A46.3,46.3 0 0 1 126.36,220.48 L123.00,223.92 A41.5,41.5 0 0 0 121.77,222.76 Z" fill="#dcdcc4"/>
<path d="M126.36,220.48 A46.3,46.3 0 0 1 128.77,223.03 L125.17,226.20 A41.5,41.5 0 0 0 123.00,223.92 Z" fill="#e2e4cc"/>
<path d="M128.77,223.03 A46.3,46.3 0 0 1 130.83,225.54 L127.01,228.45 A41.5,41.5 0 0 0 125.17,226.20 Z" fill="#dcdcc4"/>
<path d="M130.83,225.54 A46.3,46.3 0 0 1 131.88,226.98 L127.95,229.74 A41.5,41.5 0 0 0 127.01,228.45 Z" fill="#c8cab0"/>
<path d="M131.88,226.98 A46.3,46.3 0 0 1 133.99,230.26 L129.84,232.68 A41.5,41.5 0 0 0 127.95,229.74 Z" fill="#dcdcc4"/>
<path d="M133.99,230.26 A46.3,46.3 0 0 1 135.79,233.67 L131.46,235.73 A41.5,41.5 0 0 0 129.84,232.68 Z" fill="#bfc2a6"/>
<path d="M135.79,233.67 A46.3,46.3 0 0 1 137.05,236.56 L132.59,238.33 A41.5,41.5 0 0 0 131.46,235.73 Z" fill="#dcdcc4"/>
<path d="M137.05,236.56 A46.3,46.3 0 0 1 138.09,239.45 L133.52,240.92 A41.5,41.5 0 0 0 132.59,238.33 Z" fill="#e2e4cc"/>
<path d="M138.09,239.45 A46.3,46.3 0 0 1 138.67,241.41 L134.04,242.67 A41.5,41.5 0 0 0 133.52,240.92 Z" fill="#dcdcc4"/>
<path d="M138.67,241.41 A46.3,46.3 0 0 1 139.09,243.08 L134.41,244.17 A41.5,41.5 0 0 0 134.04,242.67 Z" fill="#c8cab0"/>
<path d="M139.09,243.08 A46.3,46.3 0 0 1 139.65,245.90 L134.92,246.70 A41.5,41.5 0 0 0 134.41,244.17 Z" fill="#dcdcc4"/>
<path d="M139.65,245.90 A46.3,46.3 0 0 1 139.92,247.70 L135.16,248.31 A41.5,41.5 0 0 0 134.92,246.70 Z" fill="#c8cab0"/>
<path d="M139.92,247.70 A46.3,46.3 0 0 1 140.14,249.80 L135.36,250.20 A41.5,41.5 0 0 0 135.16,248.31 Z" fill="#dcdcc4"/>
<path d="M140.14,249.80 A46.3,46.3 0 0 1 140.27,252.03 L135.48,252.19 A41.5,41.5 0 0 0 135.36,250.20 Z" fill="#c8cab0"/>
<path d="M140.27,252.03 A46.3,46.3 0 0 1 140.30,253.78 L135.50,253.76 A41.5,41.5 0 0 0 135.48,252.19 Z" fill="#dcdcc4"/>
<path d="M140.30,253.78 A46.3,46.3 0 0 1 140.21,256.51 L135.42,256.21 A41.5,41.5 0 0 0 135.50,253.76 Z" fill="#eaebd8"/>
<path d="M140.21,256.51 A46.3,46.3 0 0 1 139.96,259.18 L135.20,258.60 A41.5,41.5 0 0 0 135.42,256.21 Z" fill="#dcdcc4"/>
<path d="M139.96,259.18 A46.3,46.3 0 0 1 139.39,262.72 L134.69,261.77 A41.5,41.5 0 0 0 135.20,258.60 Z" fill="#eaebd8"/>
<path d="M139.39,262.72 A46.3,46.3 0 0 1 138.75,265.50 L134.11,264.26 A41.5,41.5 0 0 0 134.69,261.77 Z" fill="#dcdcc4"/>
<path d="M138.75,265.50 A46.3,46.3 0 0 1 137.84,268.49 L133.30,266.95 A41.5,41.5 0 0 0 134.11,264.26 Z" fill="#c8cab0"/>
<path d="M137.84,268.49 A46.3,46.3 0 0 1 136.86,271.12 L132.41,269.31 A41.5,41.5 0 0 0 133.30,266.95 Z" fill="#dcdcc4"/>
<path d="M136.86,271.12 A46.3,46.3 0 0 1 135.55,274.02 L131.25,271.90 A41.5,41.5 0 0 0 132.41,269.31 Z" fill="#e2e4cc"/>
<path d="M135.55,274.02 A46.3,46.3 0 0 1 134.29,276.42 L130.11,274.05 A41.5,41.5 0 0 0 131.25,271.90 Z" fill="#dcdcc4"/>
<path d="M134.29,276.42 A46.3,46.3 0 0 1 133.10,278.40 L129.04,275.83 A41.5,41.5 0 0 0 130.11,274.05 Z" fill="#e2e4cc"/>
<path d="M133.10,278.40 A46.3,46.3 0 0 1 130.85,281.63 L127.03,278.72 A41.5,41.5 0 0 0 129.04,275.83 Z" fill="#dcdcc4"/>
<path d="M130.85,281.63 A46.3,46.3 0 0 1 128.34,284.65 L124.78,281.43 A41.5,41.5 0 0 0 127.03,278.72 Z" fill="#e2e4cc"/>
<path d="M128.34,284.65 A46.3,46.3 0 0 1 125.84,287.21 L122.54,283.73 A41.5,41.5 0 0 0 124.78,281.43 Z" fill="#dcdcc4"/>
<path d="M125.84,287.21 A46.3,46.3 0 0 1 124.13,288.75 L121.01,285.11 A41.5,41.5 0 0 0 122.54,283.73 Z" fill="#e2e4cc"/>
<path d="M103.75,208.34 A46.3,46.3 0 0 1 105.95,208.87 L104.72,213.51 A41.5,41.5 0 0 0 102.74,213.03 Z" fill="#26261e"/>
<path d="M133.20,228.96 A46.3,46.3 0 0 1 134.36,230.91 L130.18,233.26 A41.5,41.5 0 0 0 129.13,231.51 Z" fill="#b88062"/>
<path d="M134.36,230.91 A46.3,46.3 0 0 1 135.17,232.41 L130.90,234.61 A41.5,41.5 0 0 0 130.18,233.26 Z" fill="#c89a80"/>
<path d="M125.21,219.40 A46.3,46.3 0 0 1 126.45,220.57 L123.08,223.99 A41.5,41.5 0 0 0 121.97,222.94 Z" fill="#bfc2a8"/>
<path d="M140.16,257.15 A46.3,46.3 0 0 1 140.00,258.85 L135.23,258.31 A41.5,41.5 0 0 0 135.38,256.79 Z" fill="#6a6a58"/>
<path d="M136.72,271.45 A46.3,46.3 0 0 1 135.54,274.04 L131.24,271.92 A41.5,41.5 0 0 0 132.29,269.60 Z" fill="#2a2a22"/>
<path d="M133.64,277.53 A46.3,46.3 0 0 1 132.73,278.97 L128.72,276.34 A41.5,41.5 0 0 0 129.53,275.05 Z" fill="#a8aa90"/>
<path d="M122.44,290.13 A46.3,46.3 0 0 1 120.68,291.44 L117.91,287.52 A41.5,41.5 0 0 0 119.49,286.35 Z" fill="#f6d2c0"/>
<path d="M120.68,291.44 A46.3,46.3 0 0 1 118.06,293.15 L115.57,289.05 A41.5,41.5 0 0 0 117.91,287.52 Z" fill="#f4c4b0"/>
<path d="M118.06,293.15 A46.3,46.3 0 0 1 115.35,294.69 L113.13,290.43 A41.5,41.5 0 0 0 115.57,289.05 Z" fill="#f6d2c0"/>
<path d="M115.35,294.69 A46.3,46.3 0 0 1 112.20,296.17 L110.31,291.76 A41.5,41.5 0 0 0 113.13,290.43 Z" fill="#e8a890"/>
<path d="M112.20,296.17 A46.3,46.3 0 0 1 110.31,296.93 L108.62,292.44 A41.5,41.5 0 0 0 110.31,291.76 Z" fill="#f6d2c0"/>
<path d="M110.31,296.93 A46.3,46.3 0 0 1 108.29,297.64 L106.81,293.07 A41.5,41.5 0 0 0 108.62,292.44 Z" fill="#f4c4b0"/>
<path d="M108.29,297.64 A46.3,46.3 0 0 1 106.42,298.20 L105.14,293.58 A41.5,41.5 0 0 0 106.81,293.07 Z" fill="#f6d2c0"/>
<path d="M106.42,298.20 A46.3,46.3 0 0 1 104.37,298.72 L103.29,294.05 A41.5,41.5 0 0 0 105.14,293.58 Z" fill="#e8a890"/>
<path d="M104.37,298.72 A46.3,46.3 0 0 1 101.20,299.34 L100.45,294.60 A41.5,41.5 0 0 0 103.29,294.05 Z" fill="#f6d2c0"/>
<path d="M101.20,299.34 A46.3,46.3 0 0 1 99.30,299.60 L98.75,294.83 A41.5,41.5 0 0 0 100.45,294.60 Z" fill="#f0b8a0"/>
<path d="M99.30,299.60 A46.3,46.3 0 0 1 96.52,299.83 L96.26,295.04 A41.5,41.5 0 0 0 98.75,294.83 Z" fill="#f6d2c0"/>
<path d="M96.52,299.83 A46.3,46.3 0 0 1 94.42,299.90 L94.38,295.10 A41.5,41.5 0 0 0 96.26,295.04 Z" fill="#e8a890"/>
<path d="M94.42,299.90 A46.3,46.3 0 0 1 92.15,299.86 L92.34,295.07 A41.5,41.5 0 0 0 94.38,295.10 Z" fill="#f6d2c0"/>
<path d="M92.15,299.86 A46.3,46.3 0 0 1 89.58,299.69 L90.04,294.91 A41.5,41.5 0 0 0 92.34,295.07 Z" fill="#e8a890"/>
<path d="M89.58,299.69 A46.3,46.3 0 0 1 86.16,299.23 L86.97,294.50 A41.5,41.5 0 0 0 90.04,294.91 Z" fill="#f6d2c0"/>
<path d="M86.16,299.23 A46.3,46.3 0 0 1 83.26,298.64 L84.37,293.97 A41.5,41.5 0 0 0 86.97,294.50 Z" fill="#f4c4b0"/>
<path d="M83.26,298.64 A46.3,46.3 0 0 1 81.65,298.22 L82.93,293.60 A41.5,41.5 0 0 0 84.37,293.97 Z" fill="#f6d2c0"/>
<path d="M81.65,298.22 A46.3,46.3 0 0 1 79.51,297.58 L81.02,293.02 A41.5,41.5 0 0 0 82.93,293.60 Z" fill="#fae2d6"/>
<path d="M79.51,297.58 A46.3,46.3 0 0 1 77.67,296.93 L79.37,292.43 A41.5,41.5 0 0 0 81.02,293.02 Z" fill="#f6d2c0"/>
<path d="M77.67,296.93 A46.3,46.3 0 0 1 74.42,295.56 L76.45,291.21 A41.5,41.5 0 0 0 79.37,292.43 Z" fill="#f4c4b0"/>
<path d="M74.42,295.56 A46.3,46.3 0 0 1 71.40,294.01 L73.74,289.82 A41.5,41.5 0 0 0 76.45,291.21 Z" fill="#f6d2c0"/>
<path d="M71.40,294.01 A46.3,46.3 0 0 1 68.51,292.25 L71.15,288.24 A41.5,41.5 0 0 0 73.74,289.82 Z" fill="#f4c4b0"/>
<path d="M68.51,292.25 A46.3,46.3 0 0 1 65.71,290.26 L68.65,286.46 A41.5,41.5 0 0 0 71.15,288.24 Z" fill="#f6d2c0"/>
<path d="M65.71,290.26 A46.3,46.3 0 0 1 63.21,288.18 L66.40,284.59 A41.5,41.5 0 0 0 68.65,286.46 Z" fill="#fae2d6"/>
<path d="M63.21,288.18 A46.3,46.3 0 0 1 60.55,285.61 L64.02,282.29 A41.5,41.5 0 0 0 66.40,284.59 Z" fill="#f6d2c0"/>
<path d="M60.55,285.61 A46.3,46.3 0 0 1 58.32,283.10 L62.02,280.04 A41.5,41.5 0 0 0 64.02,282.29 Z" fill="#e8a890"/>
<path d="M58.32,283.10 A46.3,46.3 0 0 1 56.96,281.38 L60.80,278.50 A41.5,41.5 0 0 0 62.02,280.04 Z" fill="#f6d2c0"/>
<path d="M56.96,281.38 A46.3,46.3 0 0 1 54.98,278.52 L59.02,275.93 A41.5,41.5 0 0 0 60.80,278.50 Z" fill="#fae2d6"/>
<path d="M54.98,278.52 A46.3,46.3 0 0 1 53.59,276.21 L57.78,273.86 A41.5,41.5 0 0 0 59.02,275.93 Z" fill="#f6d2c0"/>
<path d="M53.59,276.21 A46.3,46.3 0 0 1 52.70,274.54 L56.99,272.37 A41.5,41.5 0 0 0 57.78,273.86 Z" fill="#fae2d6"/>
<path d="M115.41,294.65 A46.3,46.3 0 0 1 113.92,295.40 L111.85,291.06 A41.5,41.5 0 0 0 113.19,290.39 Z" fill="#a83a2a"/>
<path d="M107.69,297.83 A46.3,46.3 0 0 1 106.08,298.30 L104.83,293.66 A41.5,41.5 0 0 0 106.27,293.24 Z" fill="#c86048"/>
<path d="M96.75,299.82 A46.3,46.3 0 0 1 95.07,299.89 L94.96,295.09 A41.5,41.5 0 0 0 96.46,295.03 Z" fill="#b04030"/>
<path d="M84.55,298.92 A46.3,46.3 0 0 1 82.92,298.55 L84.07,293.89 A41.5,41.5 0 0 0 85.53,294.23 Z" fill="#c05038"/>
<path d="M76.04,296.28 A46.3,46.3 0 0 1 74.51,295.60 L76.53,291.25 A41.5,41.5 0 0 0 77.90,291.85 Z" fill="#a02828"/>
<path d="M70.08,293.25 A46.3,46.3 0 0 1 68.67,292.36 L71.29,288.34 A41.5,41.5 0 0 0 72.56,289.14 Z" fill="#d87058"/>
<path d="M61.32,286.40 A46.3,46.3 0 0 1 60.15,285.19 L63.66,281.92 A41.5,41.5 0 0 0 64.71,283.00 Z" fill="#b03828"/>
<path d="M120.19,291.78 A46.3,46.3 0 0 1 118.80,292.70 L116.22,288.65 A41.5,41.5 0 0 0 117.48,287.82 Z" fill="#d06040"/>
<path d="M51.84,272.73 A46.3,46.3 0 0 1 50.80,270.25 L55.28,268.53 A41.5,41.5 0 0 0 56.21,270.74 Z" fill="#e6e8cc"/>
<path d="M50.80,270.25 A46.3,46.3 0 0 1 49.73,267.15 L54.32,265.75 A41.5,41.5 0 0 0 55.28,268.53 Z" fill="#c2c69e"/>
<path d="M49.73,267.15 A46.3,46.3 0 0 1 48.81,263.67 L53.49,262.62 A41.5,41.5 0 0 0 54.32,265.75 Z" fill="#e6e8cc"/>
<path d="M48.81,263.67 A46.3,46.3 0 0 1 48.38,261.52 L53.11,260.70 A41.5,41.5 0 0 0 53.49,262.62 Z" fill="#b8bc94"/>
<path d="M48.38,261.52 A46.3,46.3 0 0 1 47.94,258.35 L52.72,257.86 A41.5,41.5 0 0 0 53.11,260.70 Z" fill="#e6e8cc"/>
<path d="M47.94,258.35 A46.3,46.3 0 0 1 47.73,255.29 L52.53,255.12 A41.5,41.5 0 0 0 52.72,257.86 Z" fill="#b8bc94"/>
<path d="M47.73,255.29 A46.3,46.3 0 0 1 47.72,252.32 L52.52,252.45 A41.5,41.5 0 0 0 52.53,255.12 Z" fill="#e6e8cc"/>
<path d="M47.72,252.32 A46.3,46.3 0 0 1 47.80,250.51 L52.59,250.83 A41.5,41.5 0 0 0 52.52,252.45 Z" fill="#b8bc94"/>
<path d="M47.80,250.51 A46.3,46.3 0 0 1 47.94,248.87 L52.72,249.36 A41.5,41.5 0 0 0 52.59,250.83 Z" fill="#e6e8cc"/>
<path d="M47.94,248.87 A46.3,46.3 0 0 1 48.25,246.50 L52.99,247.24 A41.5,41.5 0 0 0 52.72,249.36 Z" fill="#b8bc94"/>
<path d="M48.25,246.50 A46.3,46.3 0 0 1 48.84,243.40 L53.52,244.46 A41.5,41.5 0 0 0 52.99,247.24 Z" fill="#e6e8cc"/>
<path d="M48.84,243.40 A46.3,46.3 0 0 1 49.35,241.35 L53.98,242.62 A41.5,41.5 0 0 0 53.52,244.46 Z" fill="#c2c69e"/>
<path d="M49.35,241.35 A46.3,46.3 0 0 1 50.12,238.83 L54.67,240.36 A41.5,41.5 0 0 0 53.98,242.62 Z" fill="#e6e8cc"/>
<path d="M50.12,238.83 A46.3,46.3 0 0 1 50.89,236.71 L55.36,238.47 A41.5,41.5 0 0 0 54.67,240.36 Z" fill="#f0f0d8"/>
<path d="M50.89,236.71 A46.3,46.3 0 0 1 52.23,233.63 L56.56,235.70 A41.5,41.5 0 0 0 55.36,238.47 Z" fill="#e6e8cc"/>
<path d="M52.23,233.63 A46.3,46.3 0 0 1 53.89,230.47 L58.05,232.86 A41.5,41.5 0 0 0 56.56,235.70 Z" fill="#b8bc94"/>
<path d="M53.89,230.47 A46.3,46.3 0 0 1 55.16,228.40 L59.19,231.01 A41.5,41.5 0 0 0 58.05,232.86 Z" fill="#e6e8cc"/>
<path d="M55.16,228.40 A46.3,46.3 0 0 1 57.29,225.39 L61.09,228.31 A41.5,41.5 0 0 0 59.19,231.01 Z" fill="#c2c69e"/>
<path d="M57.29,225.39 A46.3,46.3 0 0 1 58.36,224.05 L62.05,227.11 A41.5,41.5 0 0 0 61.09,228.31 Z" fill="#e6e8cc"/>
<path d="M58.36,224.05 A46.3,46.3 0 0 1 60.55,221.59 L64.02,224.91 A41.5,41.5 0 0 0 62.05,227.11 Z" fill="#b8bc94"/>
<path d="M60.55,221.59 A46.3,46.3 0 0 1 62.63,219.55 L65.88,223.08 A41.5,41.5 0 0 0 64.02,224.91 Z" fill="#e6e8cc"/>
<path d="M49.06,264.72 A46.3,46.3 0 0 1 48.18,260.28 L52.93,259.59 A41.5,41.5 0 0 0 53.72,263.57 Z" fill="#dca868"/>
<path d="M48.74,263.34 A46.3,46.3 0 0 1 48.41,261.68 L53.14,260.84 A41.5,41.5 0 0 0 53.43,262.33 Z" fill="#b06a28"/>
<path d="M51.84,272.73 A46.3,46.3 0 0 1 51.16,271.17 L55.60,269.35 A41.5,41.5 0 0 0 56.21,270.74 Z" fill="#98b0b0"/>
<path d="M64.36,218.03 A46.3,46.3 0 0 1 66.98,216.00 L69.78,219.90 A41.5,41.5 0 0 0 67.44,221.72 Z" fill="#d4d4da"/>
<path d="M66.98,216.00 A46.3,46.3 0 0 1 69.95,214.03 L72.45,218.14 A41.5,41.5 0 0 0 69.78,219.90 Z" fill="#e2e2e8"/>
<path d="M69.95,214.03 A46.3,46.3 0 0 1 72.52,212.58 L74.75,216.84 A41.5,41.5 0 0 0 72.45,218.14 Z" fill="#d4d4da"/>
<path d="M72.52,212.58 A46.3,46.3 0 0 1 75.16,211.31 L77.11,215.69 A41.5,41.5 0 0 0 74.75,216.84 Z" fill="#c4c4cc"/>
<path d="M75.16,211.31 A46.3,46.3 0 0 1 77.61,210.30 L79.31,214.79 A41.5,41.5 0 0 0 77.11,215.69 Z" fill="#d4d4da"/>
<path d="M77.61,210.30 A46.3,46.3 0 0 1 81.46,209.03 L82.76,213.65 A41.5,41.5 0 0 0 79.31,214.79 Z" fill="#e2e2e8"/>
<path d="M81.46,209.03 A46.3,46.3 0 0 1 83.80,208.44 L84.86,213.12 A41.5,41.5 0 0 0 82.76,213.65 Z" fill="#d4d4da"/>
<path d="M83.80,208.44 A46.3,46.3 0 0 1 85.84,208.02 L86.69,212.75 A41.5,41.5 0 0 0 84.86,213.12 Z" fill="#e2e2e8"/>
<path d="M85.84,208.02 A46.3,46.3 0 0 1 88.16,207.67 L88.77,212.43 A41.5,41.5 0 0 0 86.69,212.75 Z" fill="#d4d4da"/>
<path d="M88.16,207.67 A46.3,46.3 0 0 1 90.50,207.43 L90.86,212.22 A41.5,41.5 0 0 0 88.77,212.43 Z" fill="#c4c4cc"/>
<path d="M90.50,207.43 A46.3,46.3 0 0 1 90.86,207.41 L91.18,212.20 A41.5,41.5 0 0 0 90.86,212.22 Z" fill="#d4d4da"/>
<path d="M64.36,218.03 A46.3,46.3 0 0 1 66.14,216.62 L69.02,220.46 A41.5,41.5 0 0 0 67.44,221.72 Z" fill="#7aa0a0"/>
<path d="M66.59,216.29 A46.3,46.3 0 0 1 68.45,214.99 L71.09,218.99 A41.5,41.5 0 0 0 69.43,220.15 Z" fill="#703040"/>
<path d="M68.45,214.99 A46.3,46.3 0 0 1 70.36,213.79 L72.81,217.92 A41.5,41.5 0 0 0 71.09,218.99 Z" fill="#e8b8c0"/>
<path d="M70.85,213.50 A46.3,46.3 0 0 1 72.33,212.68 L74.58,216.92 A41.5,41.5 0 0 0 73.25,217.66 Z" fill="#d8a8b0"/>
<path d="M79.47,214.73 Q91.20,251.71 52.51,254.61" fill="none" stroke="#d0d0d0" stroke-width="0.6" stroke-opacity="1"/>
<path d="M73.00,289.39 Q95.68,258.89 131.79,270.74" fill="none" stroke="#d0d0d0" stroke-width="0.6" stroke-opacity="1"/>
<text class="c" x="94.69" y="204.00" font-size="6.4" text-anchor="start" dominant-baseline="central" fill="#2a2a2a" transform="rotate(-89.2 94.69 204.00)">0</text>
<text class="c" x="99.12" y="204.27" font-size="6.4" text-anchor="start" dominant-baseline="central" fill="#2a2a2a" transform="rotate(-84.1 99.12 204.27)">10</text>
<text class="c" x="105.12" y="205.26" font-size="6.4" text-anchor="start" dominant-baseline="central" fill="#2a2a2a" transform="rotate(-77.0 105.12 205.26)">20</text>
<text class="c" x="110.96" y="206.99" font-size="6.4" text-anchor="start" dominant-baseline="central" fill="#2a2a2a" transform="rotate(-70.0 110.96 206.99)">30</text>
<text class="c" x="116.53" y="209.41" font-size="6.4" text-anchor="start" dominant-baseline="central" fill="#2a2a2a" transform="rotate(-63.0 116.53 209.41)">40</text>
<text class="c" x="121.77" y="212.50" font-size="6.4" text-anchor="start" dominant-baseline="central" fill="#2a2a2a" transform="rotate(-56.0 121.77 212.50)">50</text>
<text class="c" x="126.59" y="216.21" font-size="6.4" text-anchor="start" dominant-baseline="central" fill="#2a2a2a" transform="rotate(-48.9 126.59 216.21)">60</text>
<text class="c" x="130.92" y="220.48" font-size="6.4" text-anchor="start" dominant-baseline="central" fill="#2a2a2a" transform="rotate(-41.9 130.92 220.48)">70</text>
<text class="c" x="134.70" y="225.25" font-size="6.4" text-anchor="start" dominant-baseline="central" fill="#2a2a2a" transform="rotate(-34.9 134.70 225.25)">80</text>
<text class="c" x="137.86" y="230.44" font-size="6.4" text-anchor="start" dominant-baseline="central" fill="#2a2a2a" transform="rotate(-27.8 137.86 230.44)">90</text>
<text class="c" x="140.37" y="235.99" font-size="6.4" text-anchor="start" dominant-baseline="central" fill="#2a2a2a" transform="rotate(-20.8 140.37 235.99)">100</text>
<text class="c" x="142.17" y="241.79" font-size="6.4" text-anchor="start" dominant-baseline="central" fill="#2a2a2a" transform="rotate(-13.8 142.17 241.79)">110</text>
<text class="c" x="143.26" y="247.78" font-size="6.4" text-anchor="start" dominant-baseline="central" fill="#2a2a2a" transform="rotate(-6.7 143.26 247.78)">120</text>
<text class="c" x="143.60" y="253.85" font-size="6.4" text-anchor="start" dominant-baseline="central" fill="#2a2a2a" transform="rotate(0.3 143.60 253.85)">130</text>
<text class="c" x="143.20" y="259.92" font-size="6.4" text-anchor="start" dominant-baseline="central" fill="#2a2a2a" transform="rotate(7.3 143.20 259.92)">140</text>
<text class="c" x="142.05" y="265.89" font-size="6.4" text-anchor="start" dominant-baseline="central" fill="#2a2a2a" transform="rotate(14.3 142.05 265.89)">150</text>
<text class="c" x="140.19" y="271.68" font-size="6.4" text-anchor="start" dominant-baseline="central" fill="#2a2a2a" transform="rotate(21.4 140.19 271.68)">160</text>
<text class="c" x="137.63" y="277.20" font-size="6.4" text-anchor="start" dominant-baseline="central" fill="#2a2a2a" transform="rotate(28.4 137.63 277.20)">170</text>
<text class="c" x="134.41" y="282.36" font-size="6.4" text-anchor="start" dominant-baseline="central" fill="#2a2a2a" transform="rotate(35.4 134.41 282.36)">180</text>
<text class="c" x="130.59" y="287.09" font-size="6.4" text-anchor="start" dominant-baseline="central" fill="#2a2a2a" transform="rotate(42.5 130.59 287.09)">190</text>
<text class="c" x="124.47" y="292.74" font-size="6.4" text-anchor="start" dominant-baseline="central" fill="#2a2a2a" transform="rotate(52.1 124.47 292.74)">0</text>
<text class="c" x="119.55" y="296.12" font-size="6.4" text-anchor="start" dominant-baseline="central" fill="#2a2a2a" transform="rotate(59.0 119.55 296.12)">10</text>
<text class="c" x="114.25" y="298.88" font-size="6.4" text-anchor="start" dominant-baseline="central" fill="#2a2a2a" transform="rotate(65.9 114.25 298.88)">20</text>
<text class="c" x="108.67" y="300.98" font-size="6.4" text-anchor="start" dominant-baseline="central" fill="#2a2a2a" transform="rotate(72.8 108.67 300.98)">30</text>
<text class="c" x="102.87" y="302.40" font-size="6.4" text-anchor="start" dominant-baseline="central" fill="#2a2a2a" transform="rotate(79.7 102.87 302.40)">40</text>
<text class="c" x="96.94" y="303.11" font-size="6.4" text-anchor="start" dominant-baseline="central" fill="#2a2a2a" transform="rotate(86.6 96.94 303.11)">50</text>
<text class="c" x="90.97" y="303.11" font-size="6.4" text-anchor="end" dominant-baseline="central" fill="#2a2a2a" transform="rotate(-86.5 90.97 303.11)">60</text>
<text class="c" x="85.05" y="302.39" font-size="6.4" text-anchor="end" dominant-baseline="central" fill="#2a2a2a" transform="rotate(-79.6 85.05 302.39)">70</text>
<text class="c" x="79.25" y="300.96" font-size="6.4" text-anchor="end" dominant-baseline="central" fill="#2a2a2a" transform="rotate(-72.7 79.25 300.96)">80</text>
<text class="c" x="73.67" y="298.84" font-size="6.4" text-anchor="end" dominant-baseline="central" fill="#2a2a2a" transform="rotate(-65.8 73.67 298.84)">90</text>
<text class="c" x="68.38" y="296.07" font-size="6.4" text-anchor="end" dominant-baseline="central" fill="#2a2a2a" transform="rotate(-58.9 68.38 296.07)">100</text>
<text class="c" x="63.46" y="292.69" font-size="6.4" text-anchor="end" dominant-baseline="central" fill="#2a2a2a" transform="rotate(-52.0 63.46 292.69)">110</text>
<text class="c" x="58.99" y="288.73" font-size="6.4" text-anchor="end" dominant-baseline="central" fill="#2a2a2a" transform="rotate(-45.1 58.99 288.73)">120</text>
<text class="c" x="55.02" y="284.27" font-size="6.4" text-anchor="end" dominant-baseline="central" fill="#2a2a2a" transform="rotate(-38.2 55.02 284.27)">130</text>
<text class="c" x="51.62" y="279.37" font-size="6.4" text-anchor="end" dominant-baseline="central" fill="#2a2a2a" transform="rotate(-31.3 51.62 279.37)">140</text>
<text class="c" x="48.83" y="274.09" font-size="6.4" text-anchor="end" dominant-baseline="central" fill="#2a2a2a" transform="rotate(-24.4 48.83 274.09)">0</text>
<text class="c" x="46.67" y="268.43" font-size="6.4" text-anchor="end" dominant-baseline="central" fill="#2a2a2a" transform="rotate(-17.4 46.67 268.43)">10</text>
<text class="c" x="45.21" y="262.55" font-size="6.4" text-anchor="end" dominant-baseline="central" fill="#2a2a2a" transform="rotate(-10.4 45.21 262.55)">20</text>
<text class="c" x="44.49" y="256.54" font-size="6.4" text-anchor="end" dominant-baseline="central" fill="#2a2a2a" transform="rotate(-3.4 44.49 256.54)">30</text>
<text class="c" x="44.50" y="250.49" font-size="6.4" text-anchor="end" dominant-baseline="central" fill="#2a2a2a" transform="rotate(3.6 44.50 250.49)">40</text>
<text class="c" x="45.25" y="244.48" font-size="6.4" text-anchor="end" dominant-baseline="central" fill="#2a2a2a" transform="rotate(10.6 45.25 244.48)">50</text>
<text class="c" x="46.72" y="238.60" font-size="6.4" text-anchor="end" dominant-baseline="central" fill="#2a2a2a" transform="rotate(17.6 46.72 238.60)">60</text>
<text class="c" x="48.90" y="232.95" font-size="6.4" text-anchor="end" dominant-baseline="central" fill="#2a2a2a" transform="rotate(24.6 48.90 232.95)">70</text>
<text class="c" x="51.75" y="227.61" font-size="6.4" text-anchor="end" dominant-baseline="central" fill="#2a2a2a" transform="rotate(31.6 51.75 227.61)">80</text>
<text class="c" x="55.24" y="222.66" font-size="6.4" text-anchor="end" dominant-baseline="central" fill="#2a2a2a" transform="rotate(38.6 55.24 222.66)">90</text>
<text class="c" x="59.30" y="218.16" font-size="6.4" text-anchor="end" dominant-baseline="central" fill="#2a2a2a" transform="rotate(45.6 59.30 218.16)">100</text>
<text class="c" x="62.25" y="215.49" font-size="6.4" text-anchor="end" dominant-baseline="central" fill="#2a2a2a" transform="rotate(50.2 62.25 215.49)">0</text>
<text class="c" x="67.13" y="211.91" font-size="6.4" text-anchor="end" dominant-baseline="central" fill="#2a2a2a" transform="rotate(57.2 67.13 211.91)">10</text>
<text class="c" x="72.41" y="208.94" font-size="6.4" text-anchor="end" dominant-baseline="central" fill="#2a2a2a" transform="rotate(64.2 72.41 208.94)">20</text>
<text class="c" x="78.02" y="206.65" font-size="6.4" text-anchor="end" dominant-baseline="central" fill="#2a2a2a" transform="rotate(71.2 78.02 206.65)">30</text>
<text class="c" x="83.86" y="205.05" font-size="6.4" text-anchor="end" dominant-baseline="central" fill="#2a2a2a" transform="rotate(78.2 83.86 205.05)">40</text>
<text class="c" x="89.85" y="204.17" font-size="6.4" text-anchor="end" dominant-baseline="central" fill="#2a2a2a" transform="rotate(85.2 89.85 204.17)">50</text>
<text class="c" x="149.63" y="224.02" font-size="6.4" text-anchor="middle" dominant-baseline="central" fill="#2a2a2a" transform="rotate(62.0 149.63 224.02)">chr3</text>
<text class="c" x="83.91" y="317.31" font-size="6.4" text-anchor="middle" dominant-baseline="central" fill="#2a2a2a" transform="rotate(0.0 83.91 317.31)">chr8</text>
<text class="c" x="29.91" y="246.30" font-size="6.4" text-anchor="middle" dominant-baseline="central" fill="#2a2a2a" transform="rotate(-78.0 29.91 246.30)">chr15</text>
<text class="c" x="66.38" y="196.98" font-size="6.4" text-anchor="middle" dominant-baseline="central" fill="#2a2a2a" transform="rotate(-26.0 66.38 196.98)">chr22</text>
</g>
<text x="245.90" y="184.40" font-size="6.5" text-anchor="middle" fill="#2a2a2a">CK7-Wt</text>
<g transform="translate(245.45,252.00) scale(1,1.0117) translate(-245.45,-252.00)">
<path d="M244.14,205.07 A46.95,46.95 0 0 1 254.53,205.94 L253.64,210.45 A42.35,42.35 0 0 0 244.27,209.67 Z" fill="#e2edc4"/>
<path d="M254.53,205.94 A46.95,46.95 0 0 1 264.61,209.14 L262.73,213.34 A42.35,42.35 0 0 0 253.64,210.45 Z" fill="#eef4dc"/>
<path d="M264.61,209.14 A46.95,46.95 0 0 1 273.43,214.30 L270.69,217.99 A42.35,42.35 0 0 0 262.73,213.34 Z" fill="#e2edc4"/>
<path d="M273.43,214.30 A46.95,46.95 0 0 1 277.43,217.62 L274.29,220.99 A42.35,42.35 0 0 0 270.69,217.99 Z" fill="#c8de9c"/>
<path d="M277.43,217.62 A46.95,46.95 0 0 1 283.02,223.84 L279.34,226.60 A42.35,42.35 0 0 0 274.29,220.99 Z" fill="#e2edc4"/>
<path d="M283.02,223.84 A46.95,46.95 0 0 1 286.93,230.02 L282.87,232.17 A42.35,42.35 0 0 0 279.34,226.60 Z" fill="#eef4dc"/>
<path d="M286.93,230.02 A46.95,46.95 0 0 1 290.06,237.35 L285.69,238.79 A42.35,42.35 0 0 0 282.87,232.17 Z" fill="#e2edc4"/>
<path d="M290.06,237.35 A46.95,46.95 0 0 1 291.46,242.66 L286.95,243.57 A42.35,42.35 0 0 0 285.69,238.79 Z" fill="#c8de9c"/>
<path d="M291.46,242.66 A46.95,46.95 0 0 1 292.27,248.48 L287.68,248.82 A42.35,42.35 0 0 0 286.95,243.57 Z" fill="#e2edc4"/>
<path d="M292.27,248.48 A46.95,46.95 0 0 1 292.24,255.92 L287.65,255.54 A42.35,42.35 0 0 0 287.68,248.82 Z" fill="#eef4dc"/>
<path d="M292.24,255.92 A46.95,46.95 0 0 1 291.34,261.91 L286.85,260.94 A42.35,42.35 0 0 0 287.65,255.54 Z" fill="#e2edc4"/>
<path d="M291.34,261.91 A46.95,46.95 0 0 1 289.18,269.10 L284.89,267.42 A42.35,42.35 0 0 0 286.85,260.94 Z" fill="#c8de9c"/>
<path d="M289.18,269.10 A46.95,46.95 0 0 1 287.19,273.50 L283.10,271.39 A42.35,42.35 0 0 0 284.89,267.42 Z" fill="#e2edc4"/>
<path d="M287.19,273.50 A46.95,46.95 0 0 1 284.55,277.99 L280.72,275.44 A42.35,42.35 0 0 0 283.10,271.39 Z" fill="#d2e4ac"/>
<path d="M284.55,277.99 A46.95,46.95 0 0 1 278.81,285.04 L275.54,281.80 A42.35,42.35 0 0 0 280.72,275.44 Z" fill="#e2edc4"/>
<path d="M278.81,285.04 A46.95,46.95 0 0 1 273.28,289.81 L270.56,286.11 A42.35,42.35 0 0 0 275.54,281.80 Z" fill="#eef4dc"/>
<path d="M273.28,289.81 A46.95,46.95 0 0 1 266.58,293.93 L264.51,289.82 A42.35,42.35 0 0 0 270.56,286.11 Z" fill="#e2edc4"/>
<path d="M266.58,293.93 A46.95,46.95 0 0 1 257.95,297.25 L256.73,292.82 A42.35,42.35 0 0 0 264.51,289.82 Z" fill="#d2e4ac"/>
<path d="M257.95,297.25 A46.95,46.95 0 0 1 251.18,298.60 L250.61,294.03 A42.35,42.35 0 0 0 256.73,292.82 Z" fill="#e2edc4"/>
<path d="M251.18,298.60 A46.95,46.95 0 0 1 246.15,298.94 L246.08,294.35 A42.35,42.35 0 0 0 250.61,294.03 Z" fill="#c8de9c"/>
<path d="M246.15,298.94 A46.95,46.95 0 0 1 236.64,298.12 L237.51,293.60 A42.35,42.35 0 0 0 246.08,294.35 Z" fill="#e2edc4"/>
<path d="M236.64,298.12 A46.95,46.95 0 0 1 228.62,295.83 L230.27,291.54 A42.35,42.35 0 0 0 237.51,293.60 Z" fill="#eef4dc"/>
<path d="M228.62,295.83 A46.95,46.95 0 0 1 220.76,291.94 L223.18,288.02 A42.35,42.35 0 0 0 230.27,291.54 Z" fill="#e2edc4"/>
<path d="M220.76,291.94 A46.95,46.95 0 0 1 213.94,286.80 L217.02,283.39 A42.35,42.35 0 0 0 223.18,288.02 Z" fill="#c8de9c"/>
<path d="M213.94,286.80 A46.95,46.95 0 0 1 206.87,278.76 L210.65,276.13 A42.35,42.35 0 0 0 217.02,283.39 Z" fill="#e2edc4"/>
<path d="M206.87,278.76 A46.95,46.95 0 0 1 203.35,272.78 L207.47,270.74 A42.35,42.35 0 0 0 210.65,276.13 Z" fill="#eef4dc"/>
<path d="M203.35,272.78 A46.95,46.95 0 0 1 202.63,271.25 L206.82,269.36 A42.35,42.35 0 0 0 207.47,270.74 Z" fill="#e2edc4"/>
<path d="M274.82,215.37 A46.95,46.95 0 0 1 279.25,219.41 L275.94,222.61 A42.35,42.35 0 0 0 271.94,218.96 Z" fill="#5c9e2c"/>
<path d="M282.22,222.80 A46.95,46.95 0 0 1 284.01,225.21 L280.23,227.84 A42.35,42.35 0 0 0 278.61,225.66 Z" fill="#a8cc78"/>
<path d="M287.78,231.69 A46.95,46.95 0 0 1 288.99,234.44 L284.73,236.16 A42.35,42.35 0 0 0 283.63,233.68 Z" fill="#88bb58"/>
<path d="M290.03,237.26 A46.95,46.95 0 0 1 292.02,246.03 L287.46,246.62 A42.35,42.35 0 0 0 285.66,238.71 Z" fill="#5a9c2a"/>
<path d="M292.30,255.03 A46.95,46.95 0 0 1 291.80,259.50 L287.26,258.77 A42.35,42.35 0 0 0 287.71,254.73 Z" fill="#d4d21c"/>
<path d="M291.22,262.45 A46.95,46.95 0 0 1 290.01,266.79 L285.65,265.34 A42.35,42.35 0 0 0 286.74,261.42 Z" fill="#a8cc78"/>
<path d="M277.06,286.71 A46.95,46.95 0 0 1 269.86,292.11 L267.47,288.18 A42.35,42.35 0 0 0 273.96,283.31 Z" fill="#5a9c2a"/>
<path d="M267.25,293.58 A46.95,46.95 0 0 1 261.76,296.02 L260.16,291.71 A42.35,42.35 0 0 0 265.11,289.51 Z" fill="#5a9c2a"/>
<path d="M257.47,297.39 A46.95,46.95 0 0 1 253.07,298.33 L252.32,293.79 A42.35,42.35 0 0 0 256.29,292.94 Z" fill="#6aa838"/>
<path d="M248.59,298.84 A46.95,46.95 0 0 1 241.09,298.75 L241.52,294.17 A42.35,42.35 0 0 0 248.29,294.25 Z" fill="#56992a"/>
<path d="M238.11,298.37 A46.95,46.95 0 0 1 229.40,296.12 L230.98,291.80 A42.35,42.35 0 0 0 238.83,293.83 Z" fill="#5a9c2a"/>
<path d="M228.00,295.59 A46.95,46.95 0 0 1 225.25,294.38 L227.23,290.23 A42.35,42.35 0 0 0 229.71,291.32 Z" fill="#a0c870"/>
<path d="M201.71,269.05 A46.95,46.95 0 0 1 199.57,261.98 L204.07,261.00 A42.35,42.35 0 0 0 205.99,267.38 Z" fill="#cdc2dc"/>
<path d="M199.57,261.98 A46.95,46.95 0 0 1 198.54,254.02 L203.14,253.82 A42.35,42.35 0 0 0 204.07,261.00 Z" fill="#c6bad6"/>
<path d="M198.54,254.02 A46.95,46.95 0 0 1 198.58,249.30 L203.17,249.57 A42.35,42.35 0 0 0 203.14,253.82 Z" fill="#cdc2dc"/>
<path d="M198.58,249.30 A46.95,46.95 0 0 1 199.91,240.58 L204.37,241.70 A42.35,42.35 0 0 0 203.17,249.57 Z" fill="#bfb2d2"/>
<path d="M199.91,240.58 A46.95,46.95 0 0 1 201.31,236.01 L205.63,237.58 A42.35,42.35 0 0 0 204.37,241.70 Z" fill="#cdc2dc"/>
<path d="M201.31,236.01 A46.95,46.95 0 0 1 204.26,229.47 L208.29,231.68 A42.35,42.35 0 0 0 205.63,237.58 Z" fill="#bfb2d2"/>
<path d="M204.26,229.47 A46.95,46.95 0 0 1 206.47,225.83 L210.29,228.40 A42.35,42.35 0 0 0 208.29,231.68 Z" fill="#cdc2dc"/>
<path d="M206.47,225.83 A46.95,46.95 0 0 1 211.21,219.87 L214.57,223.02 A42.35,42.35 0 0 0 210.29,228.40 Z" fill="#c6bad6"/>
<path d="M211.21,219.87 A46.95,46.95 0 0 1 214.49,216.71 L217.52,220.17 A42.35,42.35 0 0 0 214.57,223.02 Z" fill="#cdc2dc"/>
<path d="M214.49,216.71 A46.95,46.95 0 0 1 220.38,212.30 L222.84,216.19 A42.35,42.35 0 0 0 217.52,220.17 Z" fill="#bfb2d2"/>
<path d="M220.38,212.30 A46.95,46.95 0 0 1 226.97,208.84 L228.78,213.07 A42.35,42.35 0 0 0 222.84,216.19 Z" fill="#cdc2dc"/>
<path d="M226.97,208.84 A46.95,46.95 0 0 1 234.24,206.41 L235.34,210.88 A42.35,42.35 0 0 0 228.78,213.07 Z" fill="#ddd4e8"/>
<path d="M234.24,206.41 A46.95,46.95 0 0 1 240.16,205.35 L240.68,209.92 A42.35,42.35 0 0 0 235.34,210.88 Z" fill="#cdc2dc"/>
<path d="M240.16,205.35 A46.95,46.95 0 0 1 242.75,205.13 L243.01,209.72 A42.35,42.35 0 0 0 240.68,209.92 Z" fill="#c6bad6"/>
<path d="M202.41,233.24 A46.95,46.95 0 0 1 204.40,229.21 L208.42,231.44 A42.35,42.35 0 0 0 206.63,235.08 Z" fill="#c21e3e"/>
<path d="M201.05,236.74 A46.95,46.95 0 0 1 202.12,233.93 L206.36,235.70 A42.35,42.35 0 0 0 205.40,238.23 Z" fill="#b8a8cc"/>
<text class="c" x="244.05" y="201.87" font-size="6.4" text-anchor="end" dominant-baseline="central" fill="#2a2a2a" transform="rotate(88.4 244.05 201.87)">0</text>
<text class="c" x="259.88" y="203.97" font-size="6.4" text-anchor="start" dominant-baseline="central" fill="#2a2a2a" transform="rotate(-73.3 259.88 203.97)">10</text>
<text class="c" x="274.25" y="210.95" font-size="6.4" text-anchor="start" dominant-baseline="central" fill="#2a2a2a" transform="rotate(-54.9 274.25 210.95)">20</text>
<text class="c" x="285.70" y="222.08" font-size="6.4" text-anchor="start" dominant-baseline="central" fill="#2a2a2a" transform="rotate(-36.6 285.70 222.08)">30</text>
<text class="c" x="293.06" y="236.26" font-size="6.4" text-anchor="start" dominant-baseline="central" fill="#2a2a2a" transform="rotate(-18.3 293.06 236.26)">40</text>
<text class="c" x="295.60" y="252.03" font-size="6.4" text-anchor="start" dominant-baseline="central" fill="#2a2a2a" transform="rotate(0.0 295.60 252.03)">50</text>
<text class="c" x="293.05" y="267.79" font-size="6.4" text-anchor="start" dominant-baseline="central" fill="#2a2a2a" transform="rotate(18.4 293.05 267.79)">60</text>
<text class="c" x="285.67" y="281.96" font-size="6.4" text-anchor="start" dominant-baseline="central" fill="#2a2a2a" transform="rotate(36.7 285.67 281.96)">70</text>
<text class="c" x="274.21" y="293.08" font-size="6.4" text-anchor="start" dominant-baseline="central" fill="#2a2a2a" transform="rotate(55.0 274.21 293.08)">80</text>
<text class="c" x="259.83" y="300.04" font-size="6.4" text-anchor="start" dominant-baseline="central" fill="#2a2a2a" transform="rotate(73.3 259.83 300.04)">90</text>
<text class="c" x="244.00" y="302.13" font-size="6.4" text-anchor="end" dominant-baseline="central" fill="#2a2a2a" transform="rotate(-88.3 244.00 302.13)">100</text>
<text class="c" x="228.31" y="299.13" font-size="6.4" text-anchor="end" dominant-baseline="central" fill="#2a2a2a" transform="rotate(-70.0 228.31 299.13)">110</text>
<text class="c" x="214.36" y="291.35" font-size="6.4" text-anchor="end" dominant-baseline="central" fill="#2a2a2a" transform="rotate(-51.7 214.36 291.35)">120</text>
<text class="c" x="203.56" y="279.58" font-size="6.4" text-anchor="end" dominant-baseline="central" fill="#2a2a2a" transform="rotate(-33.4 203.56 279.58)">130</text>
<text class="c" x="198.73" y="270.22" font-size="6.4" text-anchor="end" dominant-baseline="central" fill="#2a2a2a" transform="rotate(-21.3 198.73 270.22)">0</text>
<text class="c" x="195.37" y="254.62" font-size="6.4" text-anchor="end" dominant-baseline="central" fill="#2a2a2a" transform="rotate(-3.0 195.37 254.62)">10</text>
<text class="c" x="197.08" y="238.76" font-size="6.4" text-anchor="end" dominant-baseline="central" fill="#2a2a2a" transform="rotate(15.3 197.08 238.76)">20</text>
<text class="c" x="203.69" y="224.24" font-size="6.4" text-anchor="end" dominant-baseline="central" fill="#2a2a2a" transform="rotate(33.6 203.69 224.24)">30</text>
<text class="c" x="214.52" y="212.52" font-size="6.4" text-anchor="end" dominant-baseline="central" fill="#2a2a2a" transform="rotate(51.9 214.52 212.52)">40</text>
<text class="c" x="228.48" y="204.81" font-size="6.4" text-anchor="end" dominant-baseline="central" fill="#2a2a2a" transform="rotate(70.2 228.48 204.81)">50</text>
<text class="c" x="302.03" y="282.97" font-size="6.4" text-anchor="middle" dominant-baseline="central" fill="#2a2a2a" transform="rotate(-61.3 302.03 282.97)">chr11</text>
<text class="c" x="188.78" y="223.13" font-size="6.4" text-anchor="middle" dominant-baseline="central" fill="#2a2a2a" transform="rotate(-63.0 188.78 223.13)">chr19</text>
</g>
<path d="M204.19,261.53 C233.45,254.00 237.45,284.00 213.98,280.34" fill="none" stroke="#d6d6d6" stroke-width="0.6"/>
<text x="399.30" y="186.40" font-size="6.5" text-anchor="middle" fill="#2a2a2a">CK9-Wt</text>
<g transform="translate(399.45,251.85) scale(1,1.0235) translate(-399.45,-251.85)">
<path d="M398.14,205.02 A46.85,46.85 0 0 1 406.20,205.49 L405.54,210.04 A42.25,42.25 0 0 0 398.27,209.62 Z" fill="#e2edc4"/>
<path d="M406.20,205.49 A46.85,46.85 0 0 1 412.85,206.96 L411.54,211.37 A42.25,42.25 0 0 0 405.54,210.04 Z" fill="#d2e4ac"/>
<path d="M412.85,206.96 A46.85,46.85 0 0 1 421.99,210.78 L419.78,214.81 A42.25,42.25 0 0 0 411.54,211.37 Z" fill="#e2edc4"/>
<path d="M421.99,210.78 A46.85,46.85 0 0 1 427.43,214.27 L424.68,217.96 A42.25,42.25 0 0 0 419.78,214.81 Z" fill="#eef4dc"/>
<path d="M427.43,214.27 A46.85,46.85 0 0 1 433.30,219.46 L429.98,222.64 A42.25,42.25 0 0 0 424.68,217.96 Z" fill="#e2edc4"/>
<path d="M433.30,219.46 A46.85,46.85 0 0 1 437.63,224.70 L433.89,227.37 A42.25,42.25 0 0 0 429.98,222.64 Z" fill="#eef4dc"/>
<path d="M437.63,224.70 A46.85,46.85 0 0 1 441.36,230.92 L437.25,232.97 A42.25,42.25 0 0 0 433.89,227.37 Z" fill="#e2edc4"/>
<path d="M441.36,230.92 A46.85,46.85 0 0 1 445.02,240.98 L440.55,242.05 A42.25,42.25 0 0 0 437.25,232.97 Z" fill="#c8de9c"/>
<path d="M445.02,240.98 A46.85,46.85 0 0 1 445.96,246.21 L441.39,246.76 A42.25,42.25 0 0 0 440.55,242.05 Z" fill="#e2edc4"/>
<path d="M445.96,246.21 A46.85,46.85 0 0 1 446.27,253.63 L441.67,253.46 A42.25,42.25 0 0 0 441.39,246.76 Z" fill="#d2e4ac"/>
<path d="M446.27,253.63 A46.85,46.85 0 0 1 445.64,259.66 L441.11,258.90 A42.25,42.25 0 0 0 441.67,253.46 Z" fill="#e2edc4"/>
<path d="M445.64,259.66 A46.85,46.85 0 0 1 444.01,266.30 L439.64,264.88 A42.25,42.25 0 0 0 441.11,258.90 Z" fill="#eef4dc"/>
<path d="M444.01,266.30 A46.85,46.85 0 0 1 439.49,276.18 L435.56,273.79 A42.25,42.25 0 0 0 439.64,264.88 Z" fill="#e2edc4"/>
<path d="M439.49,276.18 A46.85,46.85 0 0 1 435.60,281.65 L432.05,278.72 A42.25,42.25 0 0 0 435.56,273.79 Z" fill="#eef4dc"/>
<path d="M435.60,281.65 A46.85,46.85 0 0 1 429.67,287.65 L426.70,284.14 A42.25,42.25 0 0 0 432.05,278.72 Z" fill="#e2edc4"/>
<path d="M429.67,287.65 A46.85,46.85 0 0 1 423.76,291.90 L421.38,287.96 A42.25,42.25 0 0 0 426.70,284.14 Z" fill="#c8de9c"/>
<path d="M423.76,291.90 A46.85,46.85 0 0 1 415.47,295.88 L413.90,291.55 A42.25,42.25 0 0 0 421.38,287.96 Z" fill="#e2edc4"/>
<path d="M415.47,295.88 A46.85,46.85 0 0 1 408.29,297.86 L407.42,293.34 A42.25,42.25 0 0 0 413.90,291.55 Z" fill="#c8de9c"/>
<path d="M408.29,297.86 A46.85,46.85 0 0 1 402.61,298.59 L402.30,294.00 A42.25,42.25 0 0 0 407.42,293.34 Z" fill="#e2edc4"/>
<path d="M402.61,298.59 A46.85,46.85 0 0 1 395.25,298.51 L395.67,293.93 A42.25,42.25 0 0 0 402.30,294.00 Z" fill="#c8de9c"/>
<path d="M395.25,298.51 A46.85,46.85 0 0 1 388.15,297.32 L389.26,292.85 A42.25,42.25 0 0 0 395.67,293.93 Z" fill="#e2edc4"/>
<path d="M388.15,297.32 A46.85,46.85 0 0 1 379.13,294.07 L381.13,289.92 A42.25,42.25 0 0 0 389.26,292.85 Z" fill="#eef4dc"/>
<path d="M379.13,294.07 A46.85,46.85 0 0 1 372.12,289.90 L374.80,286.16 A42.25,42.25 0 0 0 381.13,289.92 Z" fill="#e2edc4"/>
<path d="M372.12,289.90 A46.85,46.85 0 0 1 367.56,286.17 L370.69,282.80 A42.25,42.25 0 0 0 374.80,286.16 Z" fill="#eef4dc"/>
<path d="M367.56,286.17 A46.85,46.85 0 0 1 361.68,279.56 L365.39,276.84 A42.25,42.25 0 0 0 370.69,282.80 Z" fill="#e2edc4"/>
<path d="M361.68,279.56 A46.85,46.85 0 0 1 358.19,274.05 L362.25,271.87 A42.25,42.25 0 0 0 365.39,276.84 Z" fill="#c8de9c"/>
<path d="M358.19,274.05 A46.85,46.85 0 0 1 356.72,271.05 L360.91,269.17 A42.25,42.25 0 0 0 362.25,271.87 Z" fill="#e2edc4"/>
<path d="M428.75,215.30 A46.85,46.85 0 0 1 433.18,219.33 L429.87,222.53 A42.25,42.25 0 0 0 425.88,218.88 Z" fill="#5c9e2c"/>
<path d="M436.14,222.71 A46.85,46.85 0 0 1 437.93,225.12 L434.15,227.74 A42.25,42.25 0 0 0 432.54,225.57 Z" fill="#a8cc78"/>
<path d="M441.69,231.59 A46.85,46.85 0 0 1 442.90,234.33 L438.63,236.05 A42.25,42.25 0 0 0 437.54,233.58 Z" fill="#88bb58"/>
<path d="M443.93,237.14 A46.85,46.85 0 0 1 445.92,245.90 L441.36,246.48 A42.25,42.25 0 0 0 439.56,238.59 Z" fill="#5a9c2a"/>
<path d="M446.20,254.87 A46.85,46.85 0 0 1 445.70,259.33 L441.16,258.60 A42.25,42.25 0 0 0 441.61,254.57 Z" fill="#d4d21c"/>
<path d="M445.13,262.28 A46.85,46.85 0 0 1 443.92,266.60 L439.55,265.16 A42.25,42.25 0 0 0 440.64,261.25 Z" fill="#a8cc78"/>
<path d="M430.99,286.49 A46.85,46.85 0 0 1 423.81,291.87 L421.42,287.94 A42.25,42.25 0 0 0 427.90,283.09 Z" fill="#5a9c2a"/>
<path d="M421.20,293.35 A46.85,46.85 0 0 1 415.73,295.78 L414.13,291.47 A42.25,42.25 0 0 0 419.06,289.27 Z" fill="#5a9c2a"/>
<path d="M411.44,297.14 A46.85,46.85 0 0 1 407.05,298.08 L406.30,293.54 A42.25,42.25 0 0 0 410.27,292.69 Z" fill="#6aa838"/>
<path d="M402.59,298.59 A46.85,46.85 0 0 1 395.10,298.50 L395.53,293.92 A42.25,42.25 0 0 0 402.28,294.01 Z" fill="#56992a"/>
<path d="M392.13,298.12 A46.85,46.85 0 0 1 383.44,295.88 L385.01,291.56 A42.25,42.25 0 0 0 392.85,293.58 Z" fill="#5a9c2a"/>
<path d="M382.04,295.34 A46.85,46.85 0 0 1 379.29,294.14 L381.27,289.99 A42.25,42.25 0 0 0 383.75,291.07 Z" fill="#a0c870"/>
<path d="M355.80,268.87 A46.85,46.85 0 0 1 353.86,262.66 L358.34,261.60 A42.25,42.25 0 0 0 360.09,267.20 Z" fill="#cdc2dc"/>
<path d="M353.86,262.66 A46.85,46.85 0 0 1 352.94,257.50 L357.51,256.95 A42.25,42.25 0 0 0 358.34,261.60 Z" fill="#c6bad6"/>
<path d="M352.94,257.50 A46.85,46.85 0 0 1 352.63,253.58 L357.23,253.41 A42.25,42.25 0 0 0 357.51,256.95 Z" fill="#cdc2dc"/>
<path d="M352.63,253.58 A46.85,46.85 0 0 1 352.91,246.51 L357.48,247.03 A42.25,42.25 0 0 0 357.23,253.41 Z" fill="#c6bad6"/>
<path d="M352.91,246.51 A46.85,46.85 0 0 1 353.71,241.73 L358.20,242.73 A42.25,42.25 0 0 0 357.48,247.03 Z" fill="#cdc2dc"/>
<path d="M353.71,241.73 A46.85,46.85 0 0 1 355.07,236.84 L359.43,238.31 A42.25,42.25 0 0 0 358.20,242.73 Z" fill="#ddd4e8"/>
<path d="M355.07,236.84 A46.85,46.85 0 0 1 357.26,231.48 L361.40,233.48 A42.25,42.25 0 0 0 359.43,238.31 Z" fill="#cdc2dc"/>
<path d="M357.26,231.48 A46.85,46.85 0 0 1 360.77,225.41 L364.57,228.01 A42.25,42.25 0 0 0 361.40,233.48 Z" fill="#c6bad6"/>
<path d="M360.77,225.41 A46.85,46.85 0 0 1 366.37,218.67 L369.62,221.93 A42.25,42.25 0 0 0 364.57,228.01 Z" fill="#cdc2dc"/>
<path d="M366.37,218.67 A46.85,46.85 0 0 1 370.97,214.65 L373.77,218.30 A42.25,42.25 0 0 0 369.62,221.93 Z" fill="#ddd4e8"/>
<path d="M370.97,214.65 A46.85,46.85 0 0 1 378.42,209.99 L380.48,214.10 A42.25,42.25 0 0 0 373.77,218.30 Z" fill="#cdc2dc"/>
<path d="M378.42,209.99 A46.85,46.85 0 0 1 386.60,206.80 L387.86,211.22 A42.25,42.25 0 0 0 380.48,214.10 Z" fill="#c6bad6"/>
<path d="M386.60,206.80 A46.85,46.85 0 0 1 391.48,205.68 L392.26,210.22 A42.25,42.25 0 0 0 387.86,211.22 Z" fill="#cdc2dc"/>
<path d="M391.48,205.68 A46.85,46.85 0 0 1 395.59,205.16 L395.97,209.74 A42.25,42.25 0 0 0 392.26,210.22 Z" fill="#bfb2d2"/>
<path d="M395.59,205.16 A46.85,46.85 0 0 1 396.75,205.08 L397.02,209.67 A42.25,42.25 0 0 0 395.97,209.74 Z" fill="#cdc2dc"/>
<path d="M356.50,233.13 A46.85,46.85 0 0 1 358.49,229.11 L362.51,231.34 A42.25,42.25 0 0 0 360.72,234.97 Z" fill="#c21e3e"/>
<path d="M355.14,236.62 A46.85,46.85 0 0 1 356.21,233.82 L360.45,235.59 A42.25,42.25 0 0 0 359.49,238.11 Z" fill="#b8a8cc"/>
<text class="c" x="398.05" y="201.82" font-size="6.4" text-anchor="end" dominant-baseline="central" fill="#2a2a2a" transform="rotate(88.4 398.05 201.82)">0</text>
<text class="c" x="413.85" y="203.92" font-size="6.4" text-anchor="start" dominant-baseline="central" fill="#2a2a2a" transform="rotate(-73.3 413.85 203.92)">10</text>
<text class="c" x="428.19" y="210.88" font-size="6.4" text-anchor="start" dominant-baseline="central" fill="#2a2a2a" transform="rotate(-54.9 428.19 210.88)">20</text>
<text class="c" x="439.62" y="221.99" font-size="6.4" text-anchor="start" dominant-baseline="central" fill="#2a2a2a" transform="rotate(-36.6 439.62 221.99)">30</text>
<text class="c" x="446.97" y="236.14" font-size="6.4" text-anchor="start" dominant-baseline="central" fill="#2a2a2a" transform="rotate(-18.3 446.97 236.14)">40</text>
<text class="c" x="449.50" y="251.88" font-size="6.4" text-anchor="start" dominant-baseline="central" fill="#2a2a2a" transform="rotate(0.0 449.50 251.88)">50</text>
<text class="c" x="446.95" y="267.61" font-size="6.4" text-anchor="start" dominant-baseline="central" fill="#2a2a2a" transform="rotate(18.4 446.95 267.61)">60</text>
<text class="c" x="439.59" y="281.75" font-size="6.4" text-anchor="start" dominant-baseline="central" fill="#2a2a2a" transform="rotate(36.7 439.59 281.75)">70</text>
<text class="c" x="428.15" y="292.85" font-size="6.4" text-anchor="start" dominant-baseline="central" fill="#2a2a2a" transform="rotate(55.0 428.15 292.85)">80</text>
<text class="c" x="413.80" y="299.80" font-size="6.4" text-anchor="start" dominant-baseline="central" fill="#2a2a2a" transform="rotate(73.3 413.80 299.80)">90</text>
<text class="c" x="398.00" y="301.88" font-size="6.4" text-anchor="end" dominant-baseline="central" fill="#2a2a2a" transform="rotate(-88.3 398.00 301.88)">100</text>
<text class="c" x="382.34" y="298.89" font-size="6.4" text-anchor="end" dominant-baseline="central" fill="#2a2a2a" transform="rotate(-70.0 382.34 298.89)">110</text>
<text class="c" x="368.42" y="291.12" font-size="6.4" text-anchor="end" dominant-baseline="central" fill="#2a2a2a" transform="rotate(-51.7 368.42 291.12)">120</text>
<text class="c" x="357.65" y="279.37" font-size="6.4" text-anchor="end" dominant-baseline="central" fill="#2a2a2a" transform="rotate(-33.4 357.65 279.37)">130</text>
<text class="c" x="352.82" y="270.03" font-size="6.4" text-anchor="end" dominant-baseline="central" fill="#2a2a2a" transform="rotate(-21.3 352.82 270.03)">0</text>
<text class="c" x="349.47" y="254.46" font-size="6.4" text-anchor="end" dominant-baseline="central" fill="#2a2a2a" transform="rotate(-3.0 349.47 254.46)">10</text>
<text class="c" x="351.18" y="238.63" font-size="6.4" text-anchor="end" dominant-baseline="central" fill="#2a2a2a" transform="rotate(15.3 351.18 238.63)">20</text>
<text class="c" x="357.77" y="224.14" font-size="6.4" text-anchor="end" dominant-baseline="central" fill="#2a2a2a" transform="rotate(33.6 357.77 224.14)">30</text>
<text class="c" x="368.58" y="212.45" font-size="6.4" text-anchor="end" dominant-baseline="central" fill="#2a2a2a" transform="rotate(51.9 368.58 212.45)">40</text>
<text class="c" x="382.52" y="204.75" font-size="6.4" text-anchor="end" dominant-baseline="central" fill="#2a2a2a" transform="rotate(70.2 382.52 204.75)">50</text>
<text class="c" x="456.03" y="282.82" font-size="6.4" text-anchor="middle" dominant-baseline="central" fill="#2a2a2a" transform="rotate(-61.3 456.03 282.82)">chr11</text>
<text class="c" x="342.78" y="222.98" font-size="6.4" text-anchor="middle" dominant-baseline="central" fill="#2a2a2a" transform="rotate(-63.0 342.78 222.98)">chr19</text>
</g>
<path d="M358.28,261.35 C387.45,253.85 391.45,283.85 368.05,280.12" fill="none" stroke="#d6d6d6" stroke-width="0.6"/>
<text x="12.60" y="342.30" font-size="10.5" text-anchor="start" fill="#111" font-weight="bold">B</text>
<text x="229.70" y="353.00" font-size="6.1" text-anchor="start" fill="#2a2a2a">CK2-Mut</text>
<line x1="75.8" y1="369" x2="104.6" y2="369" stroke="#5ab4e0" stroke-width="1.4"/>
<text x="109.80" y="371.30" font-size="6.3" text-anchor="start" fill="#2a2a2a">Inversion</text>
<line x1="152.3" y1="369" x2="180.8" y2="369" stroke="#3a3a3a" stroke-width="1.4"/>
<text x="184.60" y="371.30" font-size="6.3" text-anchor="start" fill="#2a2a2a">Translocation</text>
<rect x="239.2" y="365.3" width="19.6" height="7.3" fill="#e8141c"/>
<text x="261.70" y="371.30" font-size="6.3" text-anchor="start" fill="#2a2a2a">CN Gain</text>
<rect x="298.3" y="365.3" width="19.8" height="7.3" fill="#a5a5a5"/>
<text x="321.20" y="371.30" font-size="6.3" text-anchor="start" fill="#2a2a2a">CN Neutral</text>
<rect x="370.2" y="365.3" width="19.6" height="7.3" fill="#26215e"/>
<text x="394.20" y="371.30" font-size="6.3" text-anchor="start" fill="#2a2a2a">CN Loss</text>
<text x="16.60" y="382.70" font-size="6.3" text-anchor="start" fill="#2a2a2a">chr 15</text>
<text x="86.60" y="385.50" font-size="6.3" text-anchor="start" fill="#2a2a2a">22 kb</text>
<text x="239.70" y="385.70" font-size="6.3" text-anchor="start" fill="#2a2a2a">8 kb</text>
<text x="412.90" y="385.50" font-size="6.3" text-anchor="start" fill="#2a2a2a">14 kb</text>
<text x="16.90" y="644.60" font-size="6.3" text-anchor="start" fill="#2a2a2a">chr 16</text>
<text x="95.40" y="644.60" font-size="6.3" text-anchor="start" fill="#2a2a2a">10kb</text>
<text x="254.50" y="644.80" font-size="6.3" text-anchor="start" fill="#2a2a2a">10kb</text>
<text x="411.00" y="644.80" font-size="6.3" text-anchor="start" fill="#2a2a2a">10kb</text>
<line x1="25.0" y1="421.5" x2="165.8" y2="421.5" stroke="#222" stroke-width="1.1"/><line x1="27.50" y1="418.8" x2="27.50" y2="421.5" stroke="#222" stroke-width="0.8"/><text x="28.50" y="416.40" font-size="6.5" text-anchor="start" fill="#2a2a2a" transform="rotate(-45.0 28.50 416.40)" class="t">45,396 KB</text><line x1="50.35" y1="418.8" x2="50.35" y2="421.5" stroke="#222" stroke-width="0.8"/><text x="51.35" y="416.40" font-size="6.5" text-anchor="start" fill="#2a2a2a" transform="rotate(-45.0 51.35 416.40)" class="t">45,400 KB</text><line x1="73.20" y1="418.8" x2="73.20" y2="421.5" stroke="#222" stroke-width="0.8"/><text x="74.20" y="416.40" font-size="6.5" text-anchor="start" fill="#2a2a2a" transform="rotate(-45.0 74.20 416.40)" class="t">45,404 KB</text><line x1="96.05" y1="418.8" x2="96.05" y2="421.5" stroke="#222" stroke-width="0.8"/><text x="97.05" y="416.40" font-size="6.5" text-anchor="start" fill="#2a2a2a" transform="rotate(-45.0 97.05 416.40)" class="t">45,408 KB</text><line x1="118.90" y1="418.8" x2="118.90" y2="421.5" stroke="#222" stroke-width="0.8"/><text x="119.90" y="416.40" font-size="6.5" text-anchor="start" fill="#2a2a2a" transform="rotate(-45.0 119.90 416.40)" class="t">45,412 KB</text><line x1="141.75" y1="418.8" x2="141.75" y2="421.5" stroke="#222" stroke-width="0.8"/><text x="142.75" y="416.40" font-size="6.5" text-anchor="start" fill="#2a2a2a" transform="rotate(-45.0 142.75 416.40)" class="t">45,416 KB</text><line x1="164.60" y1="418.8" x2="164.60" y2="421.5" stroke="#222" stroke-width="0.8"/><text x="165.60" y="416.40" font-size="6.5" text-anchor="start" fill="#2a2a2a" transform="rotate(-45.0 165.60 416.40)" class="t">45,418 KB</text>
<line x1="198.5" y1="421.5" x2="295.1" y2="421.5" stroke="#222" stroke-width="1.1"/><line x1="201.10" y1="418.8" x2="201.10" y2="421.5" stroke="#222" stroke-width="0.8"/><text x="202.10" y="416.40" font-size="6.5" text-anchor="start" fill="#2a2a2a" transform="rotate(-45.0 202.10 416.40)" class="t">46,150 KB</text><line x1="223.90" y1="418.8" x2="223.90" y2="421.5" stroke="#222" stroke-width="0.8"/><text x="224.90" y="416.40" font-size="6.5" text-anchor="start" fill="#2a2a2a" transform="rotate(-45.0 224.90 416.40)" class="t">46,152 KB</text><line x1="246.70" y1="418.8" x2="246.70" y2="421.5" stroke="#222" stroke-width="0.8"/><text x="247.70" y="416.40" font-size="6.5" text-anchor="start" fill="#2a2a2a" transform="rotate(-45.0 247.70 416.40)" class="t">46,154 KB</text><line x1="269.50" y1="418.8" x2="269.50" y2="421.5" stroke="#222" stroke-width="0.8"/><text x="270.50" y="416.40" font-size="6.5" text-anchor="start" fill="#2a2a2a" transform="rotate(-45.0 270.50 416.40)" class="t">46,156 KB</text><line x1="292.30" y1="418.8" x2="292.30" y2="421.5" stroke="#222" stroke-width="0.8"/><text x="293.30" y="416.40" font-size="6.5" text-anchor="start" fill="#2a2a2a" transform="rotate(-45.0 293.30 416.40)" class="t">46,158 KB</text>
<line x1="329.5" y1="421.5" x2="494.6" y2="421.5" stroke="#222" stroke-width="1.1"/><line x1="332.00" y1="418.8" x2="332.00" y2="421.5" stroke="#222" stroke-width="0.8"/><text x="333.00" y="416.40" font-size="6.5" text-anchor="start" fill="#2a2a2a" transform="rotate(-45.0 333.00 416.40)" class="t">65,056 KB</text><line x1="354.76" y1="418.8" x2="354.76" y2="421.5" stroke="#222" stroke-width="0.8"/><text x="355.76" y="416.40" font-size="6.5" text-anchor="start" fill="#2a2a2a" transform="rotate(-45.0 355.76 416.40)" class="t">65,058 KB</text><line x1="377.51" y1="418.8" x2="377.51" y2="421.5" stroke="#222" stroke-width="0.8"/><text x="378.51" y="416.40" font-size="6.5" text-anchor="start" fill="#2a2a2a" transform="rotate(-45.0 378.51 416.40)" class="t">65,060 KB</text><line x1="400.27" y1="418.8" x2="400.27" y2="421.5" stroke="#222" stroke-width="0.8"/><text x="401.27" y="416.40" font-size="6.5" text-anchor="start" fill="#2a2a2a" transform="rotate(-45.0 401.27 416.40)" class="t">65,062 KB</text><line x1="423.03" y1="418.8" x2="423.03" y2="421.5" stroke="#222" stroke-width="0.8"/><text x="424.03" y="416.40" font-size="6.5" text-anchor="start" fill="#2a2a2a" transform="rotate(-45.0 424.03 416.40)" class="t">65,064 KB</text><line x1="445.79" y1="418.8" x2="445.79" y2="421.5" stroke="#222" stroke-width="0.8"/><text x="446.79" y="416.40" font-size="6.5" text-anchor="start" fill="#2a2a2a" transform="rotate(-45.0 446.79 416.40)" class="t">65,066 KB</text><line x1="468.54" y1="418.8" x2="468.54" y2="421.5" stroke="#222" stroke-width="0.8"/><text x="469.54" y="416.40" font-size="6.5" text-anchor="start" fill="#2a2a2a" transform="rotate(-45.0 469.54 416.40)" class="t">65,068 KB</text><line x1="491.30" y1="418.8" x2="491.30" y2="421.5" stroke="#222" stroke-width="0.8"/><text x="492.30" y="416.40" font-size="6.5" text-anchor="start" fill="#2a2a2a" transform="rotate(-45.0 492.30 416.40)" class="t">65,070 KB</text>
<line x1="42.0" y1="603.5" x2="161.2" y2="603.5" stroke="#222" stroke-width="1.1"/><line x1="44.60" y1="603.5" x2="44.60" y2="606.2" stroke="#222" stroke-width="0.8"/><text x="48.40" y="610.30" font-size="6.5" text-anchor="end" fill="#2a2a2a" transform="rotate(-45.0 48.40 610.30)" class="t">4,020 KB</text><line x1="67.42" y1="603.5" x2="67.42" y2="606.2" stroke="#222" stroke-width="0.8"/><text x="71.22" y="610.30" font-size="6.5" text-anchor="end" fill="#2a2a2a" transform="rotate(-45.0 71.22 610.30)" class="t">4,022 KB</text><line x1="90.24" y1="603.5" x2="90.24" y2="606.2" stroke="#222" stroke-width="0.8"/><text x="94.04" y="610.30" font-size="6.5" text-anchor="end" fill="#2a2a2a" transform="rotate(-45.0 94.04 610.30)" class="t">4,024 KB</text><line x1="113.06" y1="603.5" x2="113.06" y2="606.2" stroke="#222" stroke-width="0.8"/><text x="116.86" y="610.30" font-size="6.5" text-anchor="end" fill="#2a2a2a" transform="rotate(-45.0 116.86 610.30)" class="t">4,026 KB</text><line x1="135.88" y1="603.5" x2="135.88" y2="606.2" stroke="#222" stroke-width="0.8"/><text x="139.68" y="610.30" font-size="6.5" text-anchor="end" fill="#2a2a2a" transform="rotate(-45.0 139.68 610.30)" class="t">4,028 KB</text><line x1="158.70" y1="603.5" x2="158.70" y2="606.2" stroke="#222" stroke-width="0.8"/><text x="162.50" y="610.30" font-size="6.5" text-anchor="end" fill="#2a2a2a" transform="rotate(-45.0 162.50 610.30)" class="t">4,030 KB</text>
<line x1="201.5" y1="603.5" x2="321.5" y2="603.5" stroke="#222" stroke-width="1.1"/><line x1="204.20" y1="603.5" x2="204.20" y2="606.2" stroke="#222" stroke-width="0.8"/><text x="208.00" y="610.30" font-size="6.5" text-anchor="end" fill="#2a2a2a" transform="rotate(-45.0 208.00 610.30)" class="t">78,070 KB</text><line x1="226.94" y1="603.5" x2="226.94" y2="606.2" stroke="#222" stroke-width="0.8"/><text x="230.74" y="610.30" font-size="6.5" text-anchor="end" fill="#2a2a2a" transform="rotate(-45.0 230.74 610.30)" class="t">78,072 KB</text><line x1="249.68" y1="603.5" x2="249.68" y2="606.2" stroke="#222" stroke-width="0.8"/><text x="253.48" y="610.30" font-size="6.5" text-anchor="end" fill="#2a2a2a" transform="rotate(-45.0 253.48 610.30)" class="t">78,074 KB</text><line x1="272.42" y1="603.5" x2="272.42" y2="606.2" stroke="#222" stroke-width="0.8"/><text x="276.22" y="610.30" font-size="6.5" text-anchor="end" fill="#2a2a2a" transform="rotate(-45.0 276.22 610.30)" class="t">78,076 KB</text><line x1="295.16" y1="603.5" x2="295.16" y2="606.2" stroke="#222" stroke-width="0.8"/><text x="298.96" y="610.30" font-size="6.5" text-anchor="end" fill="#2a2a2a" transform="rotate(-45.0 298.96 610.30)" class="t">78,078 KB</text><line x1="317.90" y1="603.5" x2="317.90" y2="606.2" stroke="#222" stroke-width="0.8"/><text x="321.70" y="610.30" font-size="6.5" text-anchor="end" fill="#2a2a2a" transform="rotate(-45.0 321.70 610.30)" class="t">78,080 KB</text>
<line x1="359.1" y1="603.5" x2="475.7" y2="603.5" stroke="#222" stroke-width="1.1"/><line x1="362.30" y1="603.5" x2="362.30" y2="606.2" stroke="#222" stroke-width="0.8"/><text x="366.10" y="610.30" font-size="6.5" text-anchor="end" fill="#2a2a2a" transform="rotate(-45.0 366.10 610.30)" class="t">88,930 KB</text><line x1="384.46" y1="603.5" x2="384.46" y2="606.2" stroke="#222" stroke-width="0.8"/><text x="388.26" y="610.30" font-size="6.5" text-anchor="end" fill="#2a2a2a" transform="rotate(-45.0 388.26 610.30)" class="t">88,932 KB</text><line x1="406.62" y1="603.5" x2="406.62" y2="606.2" stroke="#222" stroke-width="0.8"/><text x="410.42" y="610.30" font-size="6.5" text-anchor="end" fill="#2a2a2a" transform="rotate(-45.0 410.42 610.30)" class="t">88,934 KB</text><line x1="428.78" y1="603.5" x2="428.78" y2="606.2" stroke="#222" stroke-width="0.8"/><text x="432.58" y="610.30" font-size="6.5" text-anchor="end" fill="#2a2a2a" transform="rotate(-45.0 432.58 610.30)" class="t">88,936 KB</text><line x1="450.94" y1="603.5" x2="450.94" y2="606.2" stroke="#222" stroke-width="0.8"/><text x="454.74" y="610.30" font-size="6.5" text-anchor="end" fill="#2a2a2a" transform="rotate(-45.0 454.74 610.30)" class="t">88,938 KB</text><line x1="473.10" y1="603.5" x2="473.10" y2="606.2" stroke="#222" stroke-width="0.8"/><text x="476.90" y="610.30" font-size="6.5" text-anchor="end" fill="#2a2a2a" transform="rotate(-45.0 476.90 610.30)" class="t">88,940 KB</text>
<rect x="26.2" y="424.3" width="116.40" height="9.699999999999989" fill="#26215e"/><rect x="143.5" y="424.3" width="20.70" height="9.699999999999989" fill="#e8141c"/>
<rect x="200.2" y="424.3" width="33.60" height="9.699999999999989" fill="#26215e"/><rect x="235.1" y="424.3" width="9.50" height="9.699999999999989" fill="#e8141c"/><rect x="245.8" y="424.3" width="30.00" height="9.699999999999989" fill="#26215e"/><rect x="276.9" y="424.3" width="6.20" height="9.699999999999989" fill="#e8141c"/><rect x="284.2" y="424.3" width="8.60" height="9.699999999999989" fill="#26215e"/>
<rect x="333.2" y="424.3" width="125.30" height="9.699999999999989" fill="#e8141c"/><rect x="460.0" y="424.3" width="31.00" height="9.699999999999989" fill="#26215e"/>
<rect x="44.9" y="591.0" width="37.10" height="9.399999999999977" fill="#26215e"/><rect x="83.1" y="591.0" width="10.70" height="9.399999999999977" fill="#e8141c"/><rect x="94.9" y="591.0" width="24.80" height="9.399999999999977" fill="#26215e"/><rect x="120.5" y="591.0" width="5.70" height="9.399999999999977" fill="#e8141c"/><rect x="127.2" y="591.0" width="32.50" height="9.399999999999977" fill="#26215e"/>
<rect x="204.6" y="591.0" width="60.20" height="9.399999999999977" fill="#26215e"/><rect x="265.8" y="591.0" width="11.30" height="9.399999999999977" fill="#a5a5a5"/><rect x="278.7" y="591.0" width="9.60" height="9.399999999999977" fill="#26215e"/><rect x="290.2" y="591.0" width="2.40" height="9.399999999999977" fill="#a5a5a5"/><rect x="294.4" y="591.0" width="6.20" height="9.399999999999977" fill="#26215e"/><rect x="301.3" y="591.0" width="16.40" height="9.399999999999977" fill="#e8141c"/>
<rect x="358.1" y="591.0" width="53.40" height="9.399999999999977" fill="#26215e"/><rect x="412.3" y="591.0" width="3.90" height="9.399999999999977" fill="#a5a5a5"/><rect x="417.1" y="591.0" width="54.00" height="9.399999999999977" fill="#26215e"/>
<line x1="7" y1="429.5" x2="13.5" y2="429.5" stroke="#9a9a9a" stroke-width="0.8"/>
<line x1="176" y1="430" x2="183.4" y2="430" stroke="#9a9a9a" stroke-width="0.8"/>
<line x1="305.8" y1="430" x2="313.1" y2="430" stroke="#9a9a9a" stroke-width="0.8"/>
<line x1="504.6" y1="430.8" x2="512" y2="430.8" stroke="#9a9a9a" stroke-width="0.8"/>
<line x1="37" y1="597" x2="44" y2="597" stroke="#9a9a9a" stroke-width="0.8"/>
<line x1="176.2" y1="597.2" x2="183.8" y2="597.2" stroke="#9a9a9a" stroke-width="0.8"/>
<line x1="332.6" y1="596.7" x2="339.8" y2="596.7" stroke="#9a9a9a" stroke-width="0.8"/>
<line x1="484.3" y1="597.4" x2="491.5" y2="597.4" stroke="#9a9a9a" stroke-width="0.8"/>
<line x1="34.3" y1="441.2" x2="99.5" y2="584.0" stroke="#4a4a4a" stroke-width="0.55" stroke-opacity="0.85"/>
<line x1="34.8" y1="441.2" x2="113" y2="584.0" stroke="#4a4a4a" stroke-width="0.55" stroke-opacity="0.85"/>
<line x1="35.5" y1="441.2" x2="119.6" y2="584.0" stroke="#4a4a4a" stroke-width="0.55" stroke-opacity="0.85"/>
<line x1="38.0" y1="441.2" x2="123" y2="584.0" stroke="#4a4a4a" stroke-width="0.55" stroke-opacity="0.85"/>
<line x1="36.0" y1="441.2" x2="265" y2="584.0" stroke="#4a4a4a" stroke-width="0.55" stroke-opacity="0.85"/>
<line x1="36.5" y1="441.2" x2="335.4" y2="584.0" stroke="#4a4a4a" stroke-width="0.55" stroke-opacity="0.85"/>
<line x1="34.3" y1="441.2" x2="411.4" y2="584.0" stroke="#4a4a4a" stroke-width="0.55" stroke-opacity="0.85"/>
<line x1="38.5" y1="441.2" x2="415.6" y2="584.0" stroke="#4a4a4a" stroke-width="0.55" stroke-opacity="0.85"/>
<line x1="143.4" y1="441.2" x2="119.6" y2="584.0" stroke="#4a4a4a" stroke-width="0.55" stroke-opacity="0.85"/>
<line x1="143.4" y1="441.2" x2="180.4" y2="584.0" stroke="#4a4a4a" stroke-width="0.55" stroke-opacity="0.85"/>
<line x1="143.4" y1="441.2" x2="335.4" y2="584.0" stroke="#4a4a4a" stroke-width="0.55" stroke-opacity="0.85"/>
<line x1="156.2" y1="441.2" x2="178.0" y2="584.0" stroke="#4a4a4a" stroke-width="0.55" stroke-opacity="0.85"/>
<line x1="182.2" y1="441.2" x2="123.0" y2="584.0" stroke="#4a4a4a" stroke-width="0.55" stroke-opacity="0.85"/>
<line x1="182.2" y1="441.2" x2="151.5" y2="584.0" stroke="#4a4a4a" stroke-width="0.55" stroke-opacity="0.85"/>
<line x1="234.4" y1="441.2" x2="487.8" y2="584.0" stroke="#4a4a4a" stroke-width="0.55" stroke-opacity="0.85"/>
<line x1="234.4" y1="441.2" x2="180.4" y2="584.0" stroke="#4a4a4a" stroke-width="0.55" stroke-opacity="0.85"/>
<line x1="245.5" y1="441.2" x2="99.5" y2="584.0" stroke="#4a4a4a" stroke-width="0.55" stroke-opacity="0.85"/>
<line x1="245.5" y1="441.2" x2="288" y2="584.0" stroke="#4a4a4a" stroke-width="0.55" stroke-opacity="0.85"/>
<line x1="234.4" y1="441.2" x2="415.4" y2="584.0" stroke="#4a4a4a" stroke-width="0.55" stroke-opacity="0.85"/>
<line x1="248.8" y1="441.2" x2="120" y2="584.0" stroke="#4a4a4a" stroke-width="0.55" stroke-opacity="0.85"/>
<line x1="248.8" y1="441.2" x2="123" y2="584.0" stroke="#4a4a4a" stroke-width="0.55" stroke-opacity="0.85"/>
<line x1="248.8" y1="441.2" x2="415.4" y2="584.0" stroke="#4a4a4a" stroke-width="0.55" stroke-opacity="0.85"/>
<line x1="248.8" y1="441.2" x2="288" y2="584.0" stroke="#4a4a4a" stroke-width="0.55" stroke-opacity="0.85"/>
<line x1="341.2" y1="441.2" x2="335.4" y2="584.0" stroke="#4a4a4a" stroke-width="0.55" stroke-opacity="0.85"/>
<line x1="341.2" y1="441.2" x2="99.5" y2="584.0" stroke="#4a4a4a" stroke-width="0.55" stroke-opacity="0.85"/>
<line x1="341.2" y1="441.2" x2="120" y2="584.0" stroke="#4a4a4a" stroke-width="0.55" stroke-opacity="0.85"/>
<line x1="457.5" y1="441.2" x2="101.5" y2="584.0" stroke="#4a4a4a" stroke-width="0.55" stroke-opacity="0.85"/>
<line x1="457.5" y1="441.2" x2="292.7" y2="584.0" stroke="#4a4a4a" stroke-width="0.55" stroke-opacity="0.85"/>
<line x1="462.5" y1="441.2" x2="117" y2="584.0" stroke="#4a4a4a" stroke-width="0.55" stroke-opacity="0.85"/>
<line x1="462.5" y1="441.2" x2="335.4" y2="584.0" stroke="#4a4a4a" stroke-width="0.55" stroke-opacity="0.85"/>
<line x1="508.7" y1="441.2" x2="98" y2="584.0" stroke="#4a4a4a" stroke-width="0.55" stroke-opacity="0.85"/>
<line x1="508.7" y1="441.2" x2="292.7" y2="584.0" stroke="#4a4a4a" stroke-width="0.55" stroke-opacity="0.85"/>
<path d="M34.5,441.2 Q134.45,473 234.4,441.2" fill="none" stroke="#5ab4e0" stroke-width="0.6" stroke-opacity="0.8"/>
<path d="M35.0,441.2 Q172.5,475 310,441.2" fill="none" stroke="#5ab4e0" stroke-width="0.6" stroke-opacity="0.8"/>
<path d="M35.5,441.2 Q188.35,471 341.2,441.2" fill="none" stroke="#5ab4e0" stroke-width="0.6" stroke-opacity="0.8"/>
<path d="M234.4,441.2 Q287.7,458 341,441.2" fill="none" stroke="#5ab4e0" stroke-width="0.6" stroke-opacity="0.8"/>
<path d="M94.6,584.0 Q217.3,557 340,584.0" fill="none" stroke="#3a9fdc" stroke-width="0.9" stroke-opacity="0.9"/>
<path d="M95.0,584.0 Q215.0,558 335,584.0" fill="none" stroke="#3a9fdc" stroke-width="0.8" stroke-opacity="0.9"/>
<path d="M95.4,584.0 Q197.7,558 300,584.0" fill="none" stroke="#4aaae0" stroke-width="0.7" stroke-opacity="0.85"/>
<path d="M95.0,584.0 Q255.0,562 415,584.0" fill="none" stroke="#7cc4e8" stroke-width="0.6" stroke-opacity="0.75"/>
<path d="M120,584.0 Q267.5,564 415,584.0" fill="none" stroke="#8ccce8" stroke-width="0.6" stroke-opacity="0.7"/>
<path d="M120,584.0 Q192.5,572 265,584.0" fill="none" stroke="#7cc4e8" stroke-width="0.6" stroke-opacity="0.7"/>
<path d="M136,584.0 Q218.0,574 300,584.0" fill="none" stroke="#7cc4e8" stroke-width="0.6" stroke-opacity="0.7"/>
<path d="M180,584.0 Q297.5,568 415,584.0" fill="none" stroke="#8ccce8" stroke-width="0.6" stroke-opacity="0.7"/>
<path d="M265,584.0 Q340.0,575 415,584.0" fill="none" stroke="#8ccce8" stroke-width="0.6" stroke-opacity="0.7"/>
<rect x="0" y="0" width="520" height="1.05" fill="#5c5c5c"/><rect x="0" y="0" width="1.05" height="653" fill="#5a5a5a"/><rect x="518.7" y="0" width="1.3" height="653" fill="#5a5a5a"/><rect x="0" y="651.7" width="520" height="1.3" fill="#5a5a5a"/>
</svg>
</body></html>
